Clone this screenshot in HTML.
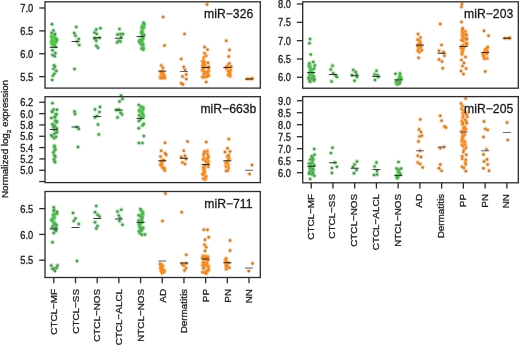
<!DOCTYPE html>
<html><head><meta charset="utf-8"><style>
html,body{margin:0;padding:0;background:#fff;width:520px;height:345px;overflow:hidden;font-family:"Liberation Sans", sans-serif;}
</style></head><body>
<svg width="520" height="345" viewBox="0 0 520 345" style="position:absolute;left:0;top:0;filter:blur(0.35px)">
<rect width="520" height="345" fill="#fff"/>
<circle cx="52.00" cy="24.20" r="2.4" fill="#4fd04f" fill-opacity="0.35"/>
<circle cx="53.50" cy="30.40" r="2.4" fill="#4fd04f" fill-opacity="0.35"/>
<circle cx="51.60" cy="32.80" r="2.4" fill="#4fd04f" fill-opacity="0.35"/>
<circle cx="55.00" cy="34.00" r="2.4" fill="#4fd04f" fill-opacity="0.35"/>
<circle cx="52.12" cy="35.47" r="2.4" fill="#4fd04f" fill-opacity="0.35"/>
<circle cx="51.64" cy="36.49" r="2.4" fill="#4fd04f" fill-opacity="0.35"/>
<circle cx="53.43" cy="36.81" r="2.4" fill="#4fd04f" fill-opacity="0.35"/>
<circle cx="54.30" cy="36.54" r="2.4" fill="#4fd04f" fill-opacity="0.35"/>
<circle cx="53.85" cy="37.01" r="2.4" fill="#4fd04f" fill-opacity="0.35"/>
<circle cx="51.75" cy="37.56" r="2.4" fill="#4fd04f" fill-opacity="0.35"/>
<circle cx="56.24" cy="38.63" r="2.4" fill="#4fd04f" fill-opacity="0.35"/>
<circle cx="52.56" cy="38.65" r="2.4" fill="#4fd04f" fill-opacity="0.35"/>
<circle cx="56.98" cy="39.95" r="2.4" fill="#4fd04f" fill-opacity="0.35"/>
<circle cx="53.62" cy="40.37" r="2.4" fill="#4fd04f" fill-opacity="0.35"/>
<circle cx="51.48" cy="41.51" r="2.4" fill="#4fd04f" fill-opacity="0.35"/>
<circle cx="52.97" cy="41.82" r="2.4" fill="#4fd04f" fill-opacity="0.35"/>
<circle cx="51.92" cy="41.18" r="2.4" fill="#4fd04f" fill-opacity="0.35"/>
<circle cx="56.18" cy="41.94" r="2.4" fill="#4fd04f" fill-opacity="0.35"/>
<circle cx="54.75" cy="42.24" r="2.4" fill="#4fd04f" fill-opacity="0.35"/>
<circle cx="53.47" cy="43.47" r="2.4" fill="#4fd04f" fill-opacity="0.35"/>
<circle cx="51.58" cy="43.83" r="2.4" fill="#4fd04f" fill-opacity="0.35"/>
<circle cx="52.46" cy="43.55" r="2.4" fill="#4fd04f" fill-opacity="0.35"/>
<circle cx="53.81" cy="45.04" r="2.4" fill="#4fd04f" fill-opacity="0.35"/>
<circle cx="54.77" cy="44.95" r="2.4" fill="#4fd04f" fill-opacity="0.35"/>
<circle cx="53.03" cy="45.68" r="2.4" fill="#4fd04f" fill-opacity="0.35"/>
<circle cx="55.46" cy="46.72" r="2.4" fill="#4fd04f" fill-opacity="0.35"/>
<circle cx="52.50" cy="50.20" r="2.4" fill="#4fd04f" fill-opacity="0.35"/>
<circle cx="55.40" cy="53.00" r="2.4" fill="#4fd04f" fill-opacity="0.35"/>
<circle cx="52.50" cy="54.90" r="2.4" fill="#4fd04f" fill-opacity="0.35"/>
<circle cx="54.80" cy="56.20" r="2.4" fill="#4fd04f" fill-opacity="0.35"/>
<circle cx="54.00" cy="65.30" r="2.4" fill="#4fd04f" fill-opacity="0.35"/>
<circle cx="53.50" cy="69.00" r="2.4" fill="#4fd04f" fill-opacity="0.35"/>
<circle cx="56.30" cy="71.00" r="2.4" fill="#4fd04f" fill-opacity="0.35"/>
<circle cx="54.40" cy="73.80" r="2.4" fill="#4fd04f" fill-opacity="0.35"/>
<circle cx="52.90" cy="75.70" r="2.4" fill="#4fd04f" fill-opacity="0.35"/>
<circle cx="52.20" cy="80.00" r="2.4" fill="#4fd04f" fill-opacity="0.35"/>
<circle cx="55.00" cy="67.00" r="2.4" fill="#4fd04f" fill-opacity="0.35"/>
<circle cx="52.00" cy="24.20" r="1.25" fill="#5a845f"/>
<circle cx="53.50" cy="30.40" r="1.25" fill="#5a845f"/>
<circle cx="51.60" cy="32.80" r="1.25" fill="#5a845f"/>
<circle cx="55.00" cy="34.00" r="1.25" fill="#5a845f"/>
<circle cx="52.12" cy="35.47" r="1.25" fill="#50cc4c"/>
<circle cx="51.64" cy="36.49" r="1.25" fill="#50cc4c"/>
<circle cx="53.43" cy="36.81" r="1.25" fill="#50cc4c"/>
<circle cx="54.30" cy="36.54" r="1.25" fill="#54af54"/>
<circle cx="53.85" cy="37.01" r="1.25" fill="#50cc4c"/>
<circle cx="51.75" cy="37.56" r="1.25" fill="#50cc4c"/>
<circle cx="56.24" cy="38.63" r="1.25" fill="#58925b"/>
<circle cx="52.56" cy="38.65" r="1.25" fill="#50cc4c"/>
<circle cx="56.98" cy="39.95" r="1.25" fill="#56a157"/>
<circle cx="53.62" cy="40.37" r="1.25" fill="#50cc4c"/>
<circle cx="51.48" cy="41.51" r="1.25" fill="#50cc4c"/>
<circle cx="52.97" cy="41.82" r="1.25" fill="#50cc4c"/>
<circle cx="51.92" cy="41.18" r="1.25" fill="#52be50"/>
<circle cx="56.18" cy="41.94" r="1.25" fill="#56a157"/>
<circle cx="54.75" cy="42.24" r="1.25" fill="#52be50"/>
<circle cx="53.47" cy="43.47" r="1.25" fill="#50cc4c"/>
<circle cx="51.58" cy="43.83" r="1.25" fill="#50cc4c"/>
<circle cx="52.46" cy="43.55" r="1.25" fill="#50cc4c"/>
<circle cx="53.81" cy="45.04" r="1.25" fill="#50cc4c"/>
<circle cx="54.77" cy="44.95" r="1.25" fill="#52be50"/>
<circle cx="53.03" cy="45.68" r="1.25" fill="#50cc4c"/>
<circle cx="55.46" cy="46.72" r="1.25" fill="#56a157"/>
<circle cx="52.50" cy="50.20" r="1.25" fill="#5a845f"/>
<circle cx="55.40" cy="53.00" r="1.25" fill="#5a845f"/>
<circle cx="52.50" cy="54.90" r="1.25" fill="#5a845f"/>
<circle cx="54.80" cy="56.20" r="1.25" fill="#5a845f"/>
<circle cx="54.00" cy="65.30" r="1.25" fill="#58925b"/>
<circle cx="53.50" cy="69.00" r="1.25" fill="#58925b"/>
<circle cx="56.30" cy="71.00" r="1.25" fill="#5a845f"/>
<circle cx="54.40" cy="73.80" r="1.25" fill="#58925b"/>
<circle cx="52.90" cy="75.70" r="1.25" fill="#58925b"/>
<circle cx="52.20" cy="80.00" r="1.25" fill="#5a845f"/>
<circle cx="55.00" cy="67.00" r="1.25" fill="#56a157"/>
<line x1="49.80" y1="47.4" x2="57.80" y2="47.4" stroke="#2a362a" stroke-width="1.05"/>
<circle cx="76.25" cy="27.00" r="2.4" fill="#4fd04f" fill-opacity="0.35"/>
<circle cx="74.25" cy="33.00" r="2.4" fill="#4fd04f" fill-opacity="0.35"/>
<circle cx="75.50" cy="35.75" r="2.4" fill="#4fd04f" fill-opacity="0.35"/>
<circle cx="78.75" cy="39.00" r="2.4" fill="#4fd04f" fill-opacity="0.35"/>
<circle cx="77.00" cy="41.50" r="2.4" fill="#4fd04f" fill-opacity="0.35"/>
<circle cx="79.25" cy="45.00" r="2.4" fill="#4fd04f" fill-opacity="0.35"/>
<circle cx="74.50" cy="69.00" r="2.4" fill="#4fd04f" fill-opacity="0.35"/>
<circle cx="76.25" cy="27.00" r="1.25" fill="#5a845f"/>
<circle cx="74.25" cy="33.00" r="1.25" fill="#5a845f"/>
<circle cx="75.50" cy="35.75" r="1.25" fill="#5a845f"/>
<circle cx="78.75" cy="39.00" r="1.25" fill="#5a845f"/>
<circle cx="77.00" cy="41.50" r="1.25" fill="#5a845f"/>
<circle cx="79.25" cy="45.00" r="1.25" fill="#5a845f"/>
<circle cx="74.50" cy="69.00" r="1.25" fill="#5a845f"/>
<line x1="71.49" y1="41.5" x2="79.49" y2="41.5" stroke="#3a3c3a" stroke-width="1.05"/>
<circle cx="96.25" cy="29.50" r="2.4" fill="#4fd04f" fill-opacity="0.35"/>
<circle cx="100.50" cy="28.25" r="2.4" fill="#4fd04f" fill-opacity="0.35"/>
<circle cx="94.50" cy="32.50" r="2.4" fill="#4fd04f" fill-opacity="0.35"/>
<circle cx="96.75" cy="34.00" r="2.4" fill="#4fd04f" fill-opacity="0.35"/>
<circle cx="94.50" cy="38.25" r="2.4" fill="#4fd04f" fill-opacity="0.35"/>
<circle cx="99.50" cy="37.75" r="2.4" fill="#4fd04f" fill-opacity="0.35"/>
<circle cx="96.25" cy="40.75" r="2.4" fill="#4fd04f" fill-opacity="0.35"/>
<circle cx="96.25" cy="45.75" r="2.4" fill="#4fd04f" fill-opacity="0.35"/>
<circle cx="98.00" cy="47.75" r="2.4" fill="#4fd04f" fill-opacity="0.35"/>
<circle cx="95.50" cy="39.00" r="2.4" fill="#4fd04f" fill-opacity="0.35"/>
<circle cx="96.25" cy="29.50" r="1.25" fill="#5a845f"/>
<circle cx="100.50" cy="28.25" r="1.25" fill="#5a845f"/>
<circle cx="94.50" cy="32.50" r="1.25" fill="#5a845f"/>
<circle cx="96.75" cy="34.00" r="1.25" fill="#5a845f"/>
<circle cx="94.50" cy="38.25" r="1.25" fill="#58925b"/>
<circle cx="99.50" cy="37.75" r="1.25" fill="#5a845f"/>
<circle cx="96.25" cy="40.75" r="1.25" fill="#58925b"/>
<circle cx="96.25" cy="45.75" r="1.25" fill="#5a845f"/>
<circle cx="98.00" cy="47.75" r="1.25" fill="#5a845f"/>
<circle cx="95.50" cy="39.00" r="1.25" fill="#56a157"/>
<line x1="93.18" y1="37.75" x2="101.18" y2="37.75" stroke="#2a362a" stroke-width="1.05"/>
<circle cx="119.50" cy="29.00" r="2.4" fill="#4fd04f" fill-opacity="0.35"/>
<circle cx="117.50" cy="34.50" r="2.4" fill="#4fd04f" fill-opacity="0.35"/>
<circle cx="120.50" cy="34.00" r="2.4" fill="#4fd04f" fill-opacity="0.35"/>
<circle cx="123.00" cy="34.00" r="2.4" fill="#4fd04f" fill-opacity="0.35"/>
<circle cx="118.75" cy="40.75" r="2.4" fill="#4fd04f" fill-opacity="0.35"/>
<circle cx="117.00" cy="42.50" r="2.4" fill="#4fd04f" fill-opacity="0.35"/>
<circle cx="120.50" cy="41.50" r="2.4" fill="#4fd04f" fill-opacity="0.35"/>
<circle cx="121.00" cy="37.00" r="2.4" fill="#4fd04f" fill-opacity="0.35"/>
<circle cx="119.50" cy="29.00" r="1.25" fill="#5a845f"/>
<circle cx="117.50" cy="34.50" r="1.25" fill="#5a845f"/>
<circle cx="120.50" cy="34.00" r="1.25" fill="#58925b"/>
<circle cx="123.00" cy="34.00" r="1.25" fill="#58925b"/>
<circle cx="118.75" cy="40.75" r="1.25" fill="#56a157"/>
<circle cx="117.00" cy="42.50" r="1.25" fill="#58925b"/>
<circle cx="120.50" cy="41.50" r="1.25" fill="#58925b"/>
<circle cx="121.00" cy="37.00" r="1.25" fill="#5a845f"/>
<line x1="114.87" y1="38.25" x2="122.87" y2="38.25" stroke="#3a3c3a" stroke-width="1.05"/>
<circle cx="143.48" cy="22.64" r="2.4" fill="#4fd04f" fill-opacity="0.35"/>
<circle cx="144.41" cy="24.19" r="2.4" fill="#4fd04f" fill-opacity="0.35"/>
<circle cx="142.59" cy="25.62" r="2.4" fill="#4fd04f" fill-opacity="0.35"/>
<circle cx="142.07" cy="27.12" r="2.4" fill="#4fd04f" fill-opacity="0.35"/>
<circle cx="144.05" cy="27.32" r="2.4" fill="#4fd04f" fill-opacity="0.35"/>
<circle cx="141.95" cy="27.94" r="2.4" fill="#4fd04f" fill-opacity="0.35"/>
<circle cx="142.77" cy="28.76" r="2.4" fill="#4fd04f" fill-opacity="0.35"/>
<circle cx="142.34" cy="30.92" r="2.4" fill="#4fd04f" fill-opacity="0.35"/>
<circle cx="141.14" cy="32.10" r="2.4" fill="#4fd04f" fill-opacity="0.35"/>
<circle cx="142.43" cy="32.81" r="2.4" fill="#4fd04f" fill-opacity="0.35"/>
<circle cx="141.80" cy="33.63" r="2.4" fill="#4fd04f" fill-opacity="0.35"/>
<circle cx="144.05" cy="35.04" r="2.4" fill="#4fd04f" fill-opacity="0.35"/>
<circle cx="142.76" cy="35.46" r="2.4" fill="#4fd04f" fill-opacity="0.35"/>
<circle cx="141.93" cy="36.73" r="2.4" fill="#4fd04f" fill-opacity="0.35"/>
<circle cx="143.27" cy="38.55" r="2.4" fill="#4fd04f" fill-opacity="0.35"/>
<circle cx="140.01" cy="39.70" r="2.4" fill="#4fd04f" fill-opacity="0.35"/>
<circle cx="141.78" cy="39.88" r="2.4" fill="#4fd04f" fill-opacity="0.35"/>
<circle cx="140.82" cy="40.17" r="2.4" fill="#4fd04f" fill-opacity="0.35"/>
<circle cx="139.24" cy="41.28" r="2.4" fill="#4fd04f" fill-opacity="0.35"/>
<circle cx="142.23" cy="41.98" r="2.4" fill="#4fd04f" fill-opacity="0.35"/>
<circle cx="139.84" cy="42.97" r="2.4" fill="#4fd04f" fill-opacity="0.35"/>
<circle cx="143.27" cy="44.37" r="2.4" fill="#4fd04f" fill-opacity="0.35"/>
<circle cx="141.54" cy="44.95" r="2.4" fill="#4fd04f" fill-opacity="0.35"/>
<circle cx="143.32" cy="46.79" r="2.4" fill="#4fd04f" fill-opacity="0.35"/>
<circle cx="143.24" cy="48.30" r="2.4" fill="#4fd04f" fill-opacity="0.35"/>
<circle cx="141.40" cy="48.52" r="2.4" fill="#4fd04f" fill-opacity="0.35"/>
<circle cx="143.33" cy="49.73" r="2.4" fill="#4fd04f" fill-opacity="0.35"/>
<circle cx="143.48" cy="22.64" r="1.25" fill="#58925b"/>
<circle cx="144.41" cy="24.19" r="1.25" fill="#56a157"/>
<circle cx="142.59" cy="25.62" r="1.25" fill="#52be50"/>
<circle cx="142.07" cy="27.12" r="1.25" fill="#52be50"/>
<circle cx="144.05" cy="27.32" r="1.25" fill="#52be50"/>
<circle cx="141.95" cy="27.94" r="1.25" fill="#52be50"/>
<circle cx="142.77" cy="28.76" r="1.25" fill="#52be50"/>
<circle cx="142.34" cy="30.92" r="1.25" fill="#54af54"/>
<circle cx="141.14" cy="32.10" r="1.25" fill="#54af54"/>
<circle cx="142.43" cy="32.81" r="1.25" fill="#54af54"/>
<circle cx="141.80" cy="33.63" r="1.25" fill="#54af54"/>
<circle cx="144.05" cy="35.04" r="1.25" fill="#58925b"/>
<circle cx="142.76" cy="35.46" r="1.25" fill="#54af54"/>
<circle cx="141.93" cy="36.73" r="1.25" fill="#56a157"/>
<circle cx="143.27" cy="38.55" r="1.25" fill="#56a157"/>
<circle cx="140.01" cy="39.70" r="1.25" fill="#54af54"/>
<circle cx="141.78" cy="39.88" r="1.25" fill="#52be50"/>
<circle cx="140.82" cy="40.17" r="1.25" fill="#52be50"/>
<circle cx="139.24" cy="41.28" r="1.25" fill="#54af54"/>
<circle cx="142.23" cy="41.98" r="1.25" fill="#54af54"/>
<circle cx="139.84" cy="42.97" r="1.25" fill="#56a157"/>
<circle cx="143.27" cy="44.37" r="1.25" fill="#56a157"/>
<circle cx="141.54" cy="44.95" r="1.25" fill="#56a157"/>
<circle cx="143.32" cy="46.79" r="1.25" fill="#52be50"/>
<circle cx="143.24" cy="48.30" r="1.25" fill="#54af54"/>
<circle cx="141.40" cy="48.52" r="1.25" fill="#54af54"/>
<circle cx="143.33" cy="49.73" r="1.25" fill="#56a157"/>
<line x1="136.56" y1="36.5" x2="144.56" y2="36.5" stroke="#2a362a" stroke-width="1.05"/>
<circle cx="163.10" cy="17.00" r="2.4" fill="#f59a30" fill-opacity="0.35"/>
<circle cx="164.50" cy="45.50" r="2.4" fill="#f59a30" fill-opacity="0.35"/>
<circle cx="161.30" cy="65.40" r="2.4" fill="#f59a30" fill-opacity="0.35"/>
<circle cx="163.00" cy="68.00" r="2.4" fill="#f59a30" fill-opacity="0.35"/>
<circle cx="161.05" cy="72.51" r="2.4" fill="#f59a30" fill-opacity="0.35"/>
<circle cx="161.50" cy="71.82" r="2.4" fill="#f59a30" fill-opacity="0.35"/>
<circle cx="162.92" cy="72.47" r="2.4" fill="#f59a30" fill-opacity="0.35"/>
<circle cx="161.67" cy="73.59" r="2.4" fill="#f59a30" fill-opacity="0.35"/>
<circle cx="162.55" cy="73.21" r="2.4" fill="#f59a30" fill-opacity="0.35"/>
<circle cx="163.37" cy="74.36" r="2.4" fill="#f59a30" fill-opacity="0.35"/>
<circle cx="164.07" cy="75.85" r="2.4" fill="#f59a30" fill-opacity="0.35"/>
<circle cx="163.66" cy="75.70" r="2.4" fill="#f59a30" fill-opacity="0.35"/>
<circle cx="160.50" cy="76.52" r="2.4" fill="#f59a30" fill-opacity="0.35"/>
<circle cx="164.57" cy="77.43" r="2.4" fill="#f59a30" fill-opacity="0.35"/>
<circle cx="164.67" cy="77.95" r="2.4" fill="#f59a30" fill-opacity="0.35"/>
<circle cx="162.43" cy="77.73" r="2.4" fill="#f59a30" fill-opacity="0.35"/>
<circle cx="163.75" cy="77.83" r="2.4" fill="#f59a30" fill-opacity="0.35"/>
<circle cx="160.58" cy="78.32" r="2.4" fill="#f59a30" fill-opacity="0.35"/>
<circle cx="163.10" cy="17.00" r="1.25" fill="#b27a46"/>
<circle cx="164.50" cy="45.50" r="1.25" fill="#b27a46"/>
<circle cx="161.30" cy="65.40" r="1.25" fill="#c77f3c"/>
<circle cx="163.00" cy="68.00" r="1.25" fill="#c77f3c"/>
<circle cx="161.05" cy="72.51" r="1.25" fill="#f08a28"/>
<circle cx="161.50" cy="71.82" r="1.25" fill="#f08a28"/>
<circle cx="162.92" cy="72.47" r="1.25" fill="#f08a28"/>
<circle cx="161.67" cy="73.59" r="1.25" fill="#f08a28"/>
<circle cx="162.55" cy="73.21" r="1.25" fill="#f08a28"/>
<circle cx="163.37" cy="74.36" r="1.25" fill="#f08a28"/>
<circle cx="164.07" cy="75.85" r="1.25" fill="#f08a28"/>
<circle cx="163.66" cy="75.70" r="1.25" fill="#f08a28"/>
<circle cx="160.50" cy="76.52" r="1.25" fill="#f08a28"/>
<circle cx="164.57" cy="77.43" r="1.25" fill="#f08a28"/>
<circle cx="164.67" cy="77.95" r="1.25" fill="#f08a28"/>
<circle cx="162.43" cy="77.73" r="1.25" fill="#f08a28"/>
<circle cx="163.75" cy="77.83" r="1.25" fill="#f08a28"/>
<circle cx="160.58" cy="78.32" r="1.25" fill="#db8532"/>
<line x1="158.25" y1="71.1" x2="166.25" y2="71.1" stroke="#3a2618" stroke-width="1.05"/>
<circle cx="184.50" cy="34.00" r="2.4" fill="#f59a30" fill-opacity="0.35"/>
<circle cx="181.25" cy="59.00" r="2.4" fill="#f59a30" fill-opacity="0.35"/>
<circle cx="183.75" cy="67.00" r="2.4" fill="#f59a30" fill-opacity="0.35"/>
<circle cx="186.25" cy="74.50" r="2.4" fill="#f59a30" fill-opacity="0.35"/>
<circle cx="182.50" cy="76.50" r="2.4" fill="#f59a30" fill-opacity="0.35"/>
<circle cx="186.25" cy="79.00" r="2.4" fill="#f59a30" fill-opacity="0.35"/>
<circle cx="181.25" cy="83.25" r="2.4" fill="#f59a30" fill-opacity="0.35"/>
<circle cx="183.00" cy="84.50" r="2.4" fill="#f59a30" fill-opacity="0.35"/>
<circle cx="185.00" cy="70.00" r="2.4" fill="#f59a30" fill-opacity="0.35"/>
<circle cx="184.50" cy="34.00" r="1.25" fill="#b27a46"/>
<circle cx="181.25" cy="59.00" r="1.25" fill="#b27a46"/>
<circle cx="183.75" cy="67.00" r="1.25" fill="#b27a46"/>
<circle cx="186.25" cy="74.50" r="1.25" fill="#b27a46"/>
<circle cx="182.50" cy="76.50" r="1.25" fill="#b27a46"/>
<circle cx="186.25" cy="79.00" r="1.25" fill="#b27a46"/>
<circle cx="181.25" cy="83.25" r="1.25" fill="#c77f3c"/>
<circle cx="183.00" cy="84.50" r="1.25" fill="#c77f3c"/>
<circle cx="185.00" cy="70.00" r="1.25" fill="#b27a46"/>
<line x1="179.94" y1="71.5" x2="187.94" y2="71.5" stroke="#636378" stroke-width="1.05"/>
<circle cx="207.00" cy="4.50" r="2.4" fill="#f59a30" fill-opacity="0.35"/>
<circle cx="204.50" cy="47.00" r="2.4" fill="#f59a30" fill-opacity="0.35"/>
<circle cx="207.50" cy="49.50" r="2.4" fill="#f59a30" fill-opacity="0.35"/>
<circle cx="204.50" cy="53.25" r="2.4" fill="#f59a30" fill-opacity="0.35"/>
<circle cx="206.25" cy="55.75" r="2.4" fill="#f59a30" fill-opacity="0.35"/>
<circle cx="203.75" cy="57.50" r="2.4" fill="#f59a30" fill-opacity="0.35"/>
<circle cx="203.27" cy="60.60" r="2.4" fill="#f59a30" fill-opacity="0.35"/>
<circle cx="202.55" cy="61.43" r="2.4" fill="#f59a30" fill-opacity="0.35"/>
<circle cx="203.20" cy="61.51" r="2.4" fill="#f59a30" fill-opacity="0.35"/>
<circle cx="204.60" cy="62.30" r="2.4" fill="#f59a30" fill-opacity="0.35"/>
<circle cx="207.97" cy="62.80" r="2.4" fill="#f59a30" fill-opacity="0.35"/>
<circle cx="203.18" cy="64.37" r="2.4" fill="#f59a30" fill-opacity="0.35"/>
<circle cx="204.49" cy="64.42" r="2.4" fill="#f59a30" fill-opacity="0.35"/>
<circle cx="203.01" cy="65.22" r="2.4" fill="#f59a30" fill-opacity="0.35"/>
<circle cx="208.75" cy="66.62" r="2.4" fill="#f59a30" fill-opacity="0.35"/>
<circle cx="205.39" cy="66.63" r="2.4" fill="#f59a30" fill-opacity="0.35"/>
<circle cx="202.87" cy="66.65" r="2.4" fill="#f59a30" fill-opacity="0.35"/>
<circle cx="203.95" cy="67.69" r="2.4" fill="#f59a30" fill-opacity="0.35"/>
<circle cx="203.27" cy="69.09" r="2.4" fill="#f59a30" fill-opacity="0.35"/>
<circle cx="208.48" cy="68.42" r="2.4" fill="#f59a30" fill-opacity="0.35"/>
<circle cx="203.17" cy="69.86" r="2.4" fill="#f59a30" fill-opacity="0.35"/>
<circle cx="202.38" cy="70.51" r="2.4" fill="#f59a30" fill-opacity="0.35"/>
<circle cx="208.66" cy="71.11" r="2.4" fill="#f59a30" fill-opacity="0.35"/>
<circle cx="206.79" cy="72.27" r="2.4" fill="#f59a30" fill-opacity="0.35"/>
<circle cx="204.62" cy="71.93" r="2.4" fill="#f59a30" fill-opacity="0.35"/>
<circle cx="207.29" cy="72.40" r="2.4" fill="#f59a30" fill-opacity="0.35"/>
<circle cx="207.34" cy="73.61" r="2.4" fill="#f59a30" fill-opacity="0.35"/>
<circle cx="203.67" cy="73.91" r="2.4" fill="#f59a30" fill-opacity="0.35"/>
<circle cx="208.70" cy="75.31" r="2.4" fill="#f59a30" fill-opacity="0.35"/>
<circle cx="207.52" cy="76.00" r="2.4" fill="#f59a30" fill-opacity="0.35"/>
<circle cx="207.08" cy="76.57" r="2.4" fill="#f59a30" fill-opacity="0.35"/>
<circle cx="205.62" cy="76.25" r="2.4" fill="#f59a30" fill-opacity="0.35"/>
<circle cx="202.39" cy="77.08" r="2.4" fill="#f59a30" fill-opacity="0.35"/>
<circle cx="204.04" cy="77.18" r="2.4" fill="#f59a30" fill-opacity="0.35"/>
<circle cx="206.25" cy="82.00" r="2.4" fill="#f59a30" fill-opacity="0.35"/>
<circle cx="207.00" cy="4.50" r="1.25" fill="#b27a46"/>
<circle cx="204.50" cy="47.00" r="1.25" fill="#b27a46"/>
<circle cx="207.50" cy="49.50" r="1.25" fill="#b27a46"/>
<circle cx="204.50" cy="53.25" r="1.25" fill="#c77f3c"/>
<circle cx="206.25" cy="55.75" r="1.25" fill="#db8532"/>
<circle cx="203.75" cy="57.50" r="1.25" fill="#db8532"/>
<circle cx="203.27" cy="60.60" r="1.25" fill="#f08a28"/>
<circle cx="202.55" cy="61.43" r="1.25" fill="#f08a28"/>
<circle cx="203.20" cy="61.51" r="1.25" fill="#f08a28"/>
<circle cx="204.60" cy="62.30" r="1.25" fill="#f08a28"/>
<circle cx="207.97" cy="62.80" r="1.25" fill="#b27a46"/>
<circle cx="203.18" cy="64.37" r="1.25" fill="#f08a28"/>
<circle cx="204.49" cy="64.42" r="1.25" fill="#f08a28"/>
<circle cx="203.01" cy="65.22" r="1.25" fill="#f08a28"/>
<circle cx="208.75" cy="66.62" r="1.25" fill="#c77f3c"/>
<circle cx="205.39" cy="66.63" r="1.25" fill="#f08a28"/>
<circle cx="202.87" cy="66.65" r="1.25" fill="#f08a28"/>
<circle cx="203.95" cy="67.69" r="1.25" fill="#f08a28"/>
<circle cx="203.27" cy="69.09" r="1.25" fill="#f08a28"/>
<circle cx="208.48" cy="68.42" r="1.25" fill="#db8532"/>
<circle cx="203.17" cy="69.86" r="1.25" fill="#f08a28"/>
<circle cx="202.38" cy="70.51" r="1.25" fill="#f08a28"/>
<circle cx="208.66" cy="71.11" r="1.25" fill="#f08a28"/>
<circle cx="206.79" cy="72.27" r="1.25" fill="#f08a28"/>
<circle cx="204.62" cy="71.93" r="1.25" fill="#f08a28"/>
<circle cx="207.29" cy="72.40" r="1.25" fill="#f08a28"/>
<circle cx="207.34" cy="73.61" r="1.25" fill="#f08a28"/>
<circle cx="203.67" cy="73.91" r="1.25" fill="#db8532"/>
<circle cx="208.70" cy="75.31" r="1.25" fill="#f08a28"/>
<circle cx="207.52" cy="76.00" r="1.25" fill="#f08a28"/>
<circle cx="207.08" cy="76.57" r="1.25" fill="#f08a28"/>
<circle cx="205.62" cy="76.25" r="1.25" fill="#f08a28"/>
<circle cx="202.39" cy="77.08" r="1.25" fill="#c77f3c"/>
<circle cx="204.04" cy="77.18" r="1.25" fill="#f08a28"/>
<circle cx="206.25" cy="82.00" r="1.25" fill="#b27a46"/>
<line x1="201.63" y1="67.5" x2="209.63" y2="67.5" stroke="#3a2618" stroke-width="1.05"/>
<circle cx="226.25" cy="40.75" r="2.4" fill="#f59a30" fill-opacity="0.35"/>
<circle cx="229.50" cy="50.00" r="2.4" fill="#f59a30" fill-opacity="0.35"/>
<circle cx="228.75" cy="56.50" r="2.4" fill="#f59a30" fill-opacity="0.35"/>
<circle cx="229.35" cy="63.36" r="2.4" fill="#f59a30" fill-opacity="0.35"/>
<circle cx="227.79" cy="65.45" r="2.4" fill="#f59a30" fill-opacity="0.35"/>
<circle cx="231.22" cy="66.40" r="2.4" fill="#f59a30" fill-opacity="0.35"/>
<circle cx="227.27" cy="67.42" r="2.4" fill="#f59a30" fill-opacity="0.35"/>
<circle cx="226.39" cy="67.22" r="2.4" fill="#f59a30" fill-opacity="0.35"/>
<circle cx="226.25" cy="68.17" r="2.4" fill="#f59a30" fill-opacity="0.35"/>
<circle cx="230.67" cy="69.83" r="2.4" fill="#f59a30" fill-opacity="0.35"/>
<circle cx="227.99" cy="71.16" r="2.4" fill="#f59a30" fill-opacity="0.35"/>
<circle cx="230.03" cy="71.84" r="2.4" fill="#f59a30" fill-opacity="0.35"/>
<circle cx="229.14" cy="71.92" r="2.4" fill="#f59a30" fill-opacity="0.35"/>
<circle cx="229.92" cy="74.22" r="2.4" fill="#f59a30" fill-opacity="0.35"/>
<circle cx="227.99" cy="74.94" r="2.4" fill="#f59a30" fill-opacity="0.35"/>
<circle cx="229.96" cy="75.01" r="2.4" fill="#f59a30" fill-opacity="0.35"/>
<circle cx="230.04" cy="76.24" r="2.4" fill="#f59a30" fill-opacity="0.35"/>
<circle cx="226.25" cy="40.75" r="1.25" fill="#b27a46"/>
<circle cx="229.50" cy="50.00" r="1.25" fill="#b27a46"/>
<circle cx="228.75" cy="56.50" r="1.25" fill="#b27a46"/>
<circle cx="229.35" cy="63.36" r="1.25" fill="#c77f3c"/>
<circle cx="227.79" cy="65.45" r="1.25" fill="#f08a28"/>
<circle cx="231.22" cy="66.40" r="1.25" fill="#b27a46"/>
<circle cx="227.27" cy="67.42" r="1.25" fill="#f08a28"/>
<circle cx="226.39" cy="67.22" r="1.25" fill="#f08a28"/>
<circle cx="226.25" cy="68.17" r="1.25" fill="#f08a28"/>
<circle cx="230.67" cy="69.83" r="1.25" fill="#f08a28"/>
<circle cx="227.99" cy="71.16" r="1.25" fill="#f08a28"/>
<circle cx="230.03" cy="71.84" r="1.25" fill="#f08a28"/>
<circle cx="229.14" cy="71.92" r="1.25" fill="#f08a28"/>
<circle cx="229.92" cy="74.22" r="1.25" fill="#f08a28"/>
<circle cx="227.99" cy="74.94" r="1.25" fill="#f08a28"/>
<circle cx="229.96" cy="75.01" r="1.25" fill="#f08a28"/>
<circle cx="230.04" cy="76.24" r="1.25" fill="#f08a28"/>
<line x1="223.32" y1="67.5" x2="231.32" y2="67.5" stroke="#3a2618" stroke-width="1.05"/>
<circle cx="247.50" cy="79.00" r="2.4" fill="#f59a30" fill-opacity="0.35"/>
<circle cx="250.50" cy="79.00" r="2.4" fill="#f59a30" fill-opacity="0.35"/>
<circle cx="252.50" cy="78.50" r="2.4" fill="#f59a30" fill-opacity="0.35"/>
<circle cx="247.50" cy="79.00" r="1.25" fill="#c77f3c"/>
<circle cx="250.50" cy="79.00" r="1.25" fill="#db8532"/>
<circle cx="252.50" cy="78.50" r="1.25" fill="#c77f3c"/>
<line x1="245.01" y1="79" x2="253.01" y2="79" stroke="#3a2618" stroke-width="1.05"/>
<rect x="45" y="1.8" width="215.30" height="86.30" fill="none" stroke="#2a2a2a" stroke-width="1.3"/>
<line x1="39.20" y1="8.00" x2="45.00" y2="8.00" stroke="#2a2a2a" stroke-width="1.3"/>
<text transform="translate(33.20,12.11) scale(1,1.17)" text-anchor="end" font-family='"Liberation Sans", sans-serif' font-size="9.3" fill="#222" stroke="#222" stroke-width="0.3">7.0</text>
<line x1="39.20" y1="30.87" x2="45.00" y2="30.87" stroke="#2a2a2a" stroke-width="1.3"/>
<text transform="translate(33.20,34.98) scale(1,1.17)" text-anchor="end" font-family='"Liberation Sans", sans-serif' font-size="9.3" fill="#222" stroke="#222" stroke-width="0.3">6.5</text>
<line x1="39.20" y1="53.74" x2="45.00" y2="53.74" stroke="#2a2a2a" stroke-width="1.3"/>
<text transform="translate(33.20,57.85) scale(1,1.17)" text-anchor="end" font-family='"Liberation Sans", sans-serif' font-size="9.3" fill="#222" stroke="#222" stroke-width="0.3">6.0</text>
<line x1="39.20" y1="76.61" x2="45.00" y2="76.61" stroke="#2a2a2a" stroke-width="1.3"/>
<text transform="translate(33.20,80.72) scale(1,1.17)" text-anchor="end" font-family='"Liberation Sans", sans-serif' font-size="9.3" fill="#222" stroke="#222" stroke-width="0.3">5.5</text>
<text transform="translate(253.20,17.80) scale(1,1.0)" text-anchor="end" font-family='"Liberation Sans", sans-serif' font-size="12.2" fill="#1a1a1a" stroke="#1a1a1a" stroke-width="0.3">miR−326</text>
<circle cx="52.50" cy="103.25" r="2.4" fill="#4fd04f" fill-opacity="0.35"/>
<circle cx="53.61" cy="109.38" r="2.4" fill="#4fd04f" fill-opacity="0.35"/>
<circle cx="56.98" cy="109.73" r="2.4" fill="#4fd04f" fill-opacity="0.35"/>
<circle cx="52.24" cy="111.51" r="2.4" fill="#4fd04f" fill-opacity="0.35"/>
<circle cx="52.12" cy="111.81" r="2.4" fill="#4fd04f" fill-opacity="0.35"/>
<circle cx="56.12" cy="114.32" r="2.4" fill="#4fd04f" fill-opacity="0.35"/>
<circle cx="56.24" cy="114.36" r="2.4" fill="#4fd04f" fill-opacity="0.35"/>
<circle cx="55.21" cy="116.96" r="2.4" fill="#4fd04f" fill-opacity="0.35"/>
<circle cx="54.55" cy="117.21" r="2.4" fill="#4fd04f" fill-opacity="0.35"/>
<circle cx="51.29" cy="118.12" r="2.4" fill="#4fd04f" fill-opacity="0.35"/>
<circle cx="55.16" cy="120.72" r="2.4" fill="#4fd04f" fill-opacity="0.35"/>
<circle cx="56.90" cy="121.27" r="2.4" fill="#4fd04f" fill-opacity="0.35"/>
<circle cx="56.52" cy="122.38" r="2.4" fill="#4fd04f" fill-opacity="0.35"/>
<circle cx="52.49" cy="124.27" r="2.4" fill="#4fd04f" fill-opacity="0.35"/>
<circle cx="52.99" cy="124.61" r="2.4" fill="#4fd04f" fill-opacity="0.35"/>
<circle cx="54.78" cy="125.85" r="2.4" fill="#4fd04f" fill-opacity="0.35"/>
<circle cx="53.76" cy="127.14" r="2.4" fill="#4fd04f" fill-opacity="0.35"/>
<circle cx="56.75" cy="128.20" r="2.4" fill="#4fd04f" fill-opacity="0.35"/>
<circle cx="53.99" cy="129.82" r="2.4" fill="#4fd04f" fill-opacity="0.35"/>
<circle cx="56.72" cy="131.44" r="2.4" fill="#4fd04f" fill-opacity="0.35"/>
<circle cx="56.80" cy="132.44" r="2.4" fill="#4fd04f" fill-opacity="0.35"/>
<circle cx="54.44" cy="133.83" r="2.4" fill="#4fd04f" fill-opacity="0.35"/>
<circle cx="51.31" cy="135.13" r="2.4" fill="#4fd04f" fill-opacity="0.35"/>
<circle cx="52.32" cy="136.25" r="2.4" fill="#4fd04f" fill-opacity="0.35"/>
<circle cx="56.07" cy="136.82" r="2.4" fill="#4fd04f" fill-opacity="0.35"/>
<circle cx="54.09" cy="138.35" r="2.4" fill="#4fd04f" fill-opacity="0.35"/>
<circle cx="54.48" cy="145.80" r="2.4" fill="#4fd04f" fill-opacity="0.35"/>
<circle cx="54.33" cy="147.03" r="2.4" fill="#4fd04f" fill-opacity="0.35"/>
<circle cx="55.42" cy="149.28" r="2.4" fill="#4fd04f" fill-opacity="0.35"/>
<circle cx="54.50" cy="150.43" r="2.4" fill="#4fd04f" fill-opacity="0.35"/>
<circle cx="53.34" cy="152.54" r="2.4" fill="#4fd04f" fill-opacity="0.35"/>
<circle cx="54.28" cy="155.25" r="2.4" fill="#4fd04f" fill-opacity="0.35"/>
<circle cx="55.32" cy="156.79" r="2.4" fill="#4fd04f" fill-opacity="0.35"/>
<circle cx="54.02" cy="159.22" r="2.4" fill="#4fd04f" fill-opacity="0.35"/>
<circle cx="54.27" cy="160.62" r="2.4" fill="#4fd04f" fill-opacity="0.35"/>
<circle cx="55.04" cy="162.33" r="2.4" fill="#4fd04f" fill-opacity="0.35"/>
<circle cx="52.50" cy="103.25" r="1.25" fill="#5a845f"/>
<circle cx="53.61" cy="109.38" r="1.25" fill="#58925b"/>
<circle cx="56.98" cy="109.73" r="1.25" fill="#5a845f"/>
<circle cx="52.24" cy="111.51" r="1.25" fill="#56a157"/>
<circle cx="52.12" cy="111.81" r="1.25" fill="#58925b"/>
<circle cx="56.12" cy="114.32" r="1.25" fill="#58925b"/>
<circle cx="56.24" cy="114.36" r="1.25" fill="#58925b"/>
<circle cx="55.21" cy="116.96" r="1.25" fill="#58925b"/>
<circle cx="54.55" cy="117.21" r="1.25" fill="#58925b"/>
<circle cx="51.29" cy="118.12" r="1.25" fill="#5a845f"/>
<circle cx="55.16" cy="120.72" r="1.25" fill="#56a157"/>
<circle cx="56.90" cy="121.27" r="1.25" fill="#56a157"/>
<circle cx="56.52" cy="122.38" r="1.25" fill="#56a157"/>
<circle cx="52.49" cy="124.27" r="1.25" fill="#58925b"/>
<circle cx="52.99" cy="124.61" r="1.25" fill="#56a157"/>
<circle cx="54.78" cy="125.85" r="1.25" fill="#56a157"/>
<circle cx="53.76" cy="127.14" r="1.25" fill="#58925b"/>
<circle cx="56.75" cy="128.20" r="1.25" fill="#5a845f"/>
<circle cx="53.99" cy="129.82" r="1.25" fill="#5a845f"/>
<circle cx="56.72" cy="131.44" r="1.25" fill="#58925b"/>
<circle cx="56.80" cy="132.44" r="1.25" fill="#58925b"/>
<circle cx="54.44" cy="133.83" r="1.25" fill="#5a845f"/>
<circle cx="51.31" cy="135.13" r="1.25" fill="#58925b"/>
<circle cx="52.32" cy="136.25" r="1.25" fill="#58925b"/>
<circle cx="56.07" cy="136.82" r="1.25" fill="#58925b"/>
<circle cx="54.09" cy="138.35" r="1.25" fill="#58925b"/>
<circle cx="54.48" cy="145.80" r="1.25" fill="#58925b"/>
<circle cx="54.33" cy="147.03" r="1.25" fill="#56a157"/>
<circle cx="55.42" cy="149.28" r="1.25" fill="#56a157"/>
<circle cx="54.50" cy="150.43" r="1.25" fill="#56a157"/>
<circle cx="53.34" cy="152.54" r="1.25" fill="#58925b"/>
<circle cx="54.28" cy="155.25" r="1.25" fill="#58925b"/>
<circle cx="55.32" cy="156.79" r="1.25" fill="#58925b"/>
<circle cx="54.02" cy="159.22" r="1.25" fill="#58925b"/>
<circle cx="54.27" cy="160.62" r="1.25" fill="#56a157"/>
<circle cx="55.04" cy="162.33" r="1.25" fill="#58925b"/>
<line x1="49.80" y1="129.5" x2="57.80" y2="129.5" stroke="#2a362a" stroke-width="1.05"/>
<circle cx="74.50" cy="111.50" r="2.4" fill="#4fd04f" fill-opacity="0.35"/>
<circle cx="75.00" cy="114.00" r="2.4" fill="#4fd04f" fill-opacity="0.35"/>
<circle cx="76.50" cy="127.00" r="2.4" fill="#4fd04f" fill-opacity="0.35"/>
<circle cx="78.75" cy="129.00" r="2.4" fill="#4fd04f" fill-opacity="0.35"/>
<circle cx="78.00" cy="147.00" r="2.4" fill="#4fd04f" fill-opacity="0.35"/>
<circle cx="74.50" cy="111.50" r="1.25" fill="#58925b"/>
<circle cx="75.00" cy="114.00" r="1.25" fill="#58925b"/>
<circle cx="76.50" cy="127.00" r="1.25" fill="#5a845f"/>
<circle cx="78.75" cy="129.00" r="1.25" fill="#5a845f"/>
<circle cx="78.00" cy="147.00" r="1.25" fill="#5a845f"/>
<line x1="71.49" y1="127" x2="79.49" y2="127" stroke="#3a3c3a" stroke-width="1.05"/>
<circle cx="95.00" cy="109.50" r="2.4" fill="#4fd04f" fill-opacity="0.35"/>
<circle cx="100.00" cy="107.00" r="2.4" fill="#4fd04f" fill-opacity="0.35"/>
<circle cx="99.50" cy="112.00" r="2.4" fill="#4fd04f" fill-opacity="0.35"/>
<circle cx="95.00" cy="117.50" r="2.4" fill="#4fd04f" fill-opacity="0.35"/>
<circle cx="98.00" cy="124.50" r="2.4" fill="#4fd04f" fill-opacity="0.35"/>
<circle cx="98.75" cy="134.50" r="2.4" fill="#4fd04f" fill-opacity="0.35"/>
<circle cx="97.00" cy="116.00" r="2.4" fill="#4fd04f" fill-opacity="0.35"/>
<circle cx="95.00" cy="109.50" r="1.25" fill="#5a845f"/>
<circle cx="100.00" cy="107.00" r="1.25" fill="#5a845f"/>
<circle cx="99.50" cy="112.00" r="1.25" fill="#5a845f"/>
<circle cx="95.00" cy="117.50" r="1.25" fill="#58925b"/>
<circle cx="98.00" cy="124.50" r="1.25" fill="#5a845f"/>
<circle cx="98.75" cy="134.50" r="1.25" fill="#5a845f"/>
<circle cx="97.00" cy="116.00" r="1.25" fill="#58925b"/>
<line x1="93.18" y1="116.5" x2="101.18" y2="116.5" stroke="#3a3c3a" stroke-width="1.05"/>
<circle cx="119.50" cy="101.50" r="2.4" fill="#4fd04f" fill-opacity="0.35"/>
<circle cx="122.50" cy="99.00" r="2.4" fill="#4fd04f" fill-opacity="0.35"/>
<circle cx="116.25" cy="110.00" r="2.4" fill="#4fd04f" fill-opacity="0.35"/>
<circle cx="118.75" cy="109.50" r="2.4" fill="#4fd04f" fill-opacity="0.35"/>
<circle cx="120.50" cy="112.50" r="2.4" fill="#4fd04f" fill-opacity="0.35"/>
<circle cx="122.00" cy="114.50" r="2.4" fill="#4fd04f" fill-opacity="0.35"/>
<circle cx="117.50" cy="117.50" r="2.4" fill="#4fd04f" fill-opacity="0.35"/>
<circle cx="121.00" cy="95.50" r="2.4" fill="#4fd04f" fill-opacity="0.35"/>
<circle cx="119.50" cy="101.50" r="1.25" fill="#5a845f"/>
<circle cx="122.50" cy="99.00" r="1.25" fill="#5a845f"/>
<circle cx="116.25" cy="110.00" r="1.25" fill="#58925b"/>
<circle cx="118.75" cy="109.50" r="1.25" fill="#58925b"/>
<circle cx="120.50" cy="112.50" r="1.25" fill="#58925b"/>
<circle cx="122.00" cy="114.50" r="1.25" fill="#58925b"/>
<circle cx="117.50" cy="117.50" r="1.25" fill="#5a845f"/>
<circle cx="121.00" cy="95.50" r="1.25" fill="#5a845f"/>
<line x1="114.87" y1="110" x2="122.87" y2="110" stroke="#2a362a" stroke-width="1.05"/>
<circle cx="138.80" cy="105.00" r="2.4" fill="#4fd04f" fill-opacity="0.35"/>
<circle cx="141.11" cy="106.69" r="2.4" fill="#4fd04f" fill-opacity="0.35"/>
<circle cx="143.11" cy="107.47" r="2.4" fill="#4fd04f" fill-opacity="0.35"/>
<circle cx="142.80" cy="108.57" r="2.4" fill="#4fd04f" fill-opacity="0.35"/>
<circle cx="139.77" cy="109.70" r="2.4" fill="#4fd04f" fill-opacity="0.35"/>
<circle cx="143.12" cy="109.83" r="2.4" fill="#4fd04f" fill-opacity="0.35"/>
<circle cx="139.17" cy="111.01" r="2.4" fill="#4fd04f" fill-opacity="0.35"/>
<circle cx="140.67" cy="110.60" r="2.4" fill="#4fd04f" fill-opacity="0.35"/>
<circle cx="139.68" cy="111.27" r="2.4" fill="#4fd04f" fill-opacity="0.35"/>
<circle cx="141.78" cy="112.01" r="2.4" fill="#4fd04f" fill-opacity="0.35"/>
<circle cx="142.90" cy="113.88" r="2.4" fill="#4fd04f" fill-opacity="0.35"/>
<circle cx="142.01" cy="113.62" r="2.4" fill="#4fd04f" fill-opacity="0.35"/>
<circle cx="139.20" cy="115.17" r="2.4" fill="#4fd04f" fill-opacity="0.35"/>
<circle cx="143.24" cy="116.26" r="2.4" fill="#4fd04f" fill-opacity="0.35"/>
<circle cx="143.17" cy="115.94" r="2.4" fill="#4fd04f" fill-opacity="0.35"/>
<circle cx="140.89" cy="116.97" r="2.4" fill="#4fd04f" fill-opacity="0.35"/>
<circle cx="138.80" cy="120.90" r="2.4" fill="#4fd04f" fill-opacity="0.35"/>
<circle cx="143.80" cy="123.80" r="2.4" fill="#4fd04f" fill-opacity="0.35"/>
<circle cx="142.50" cy="125.50" r="2.4" fill="#4fd04f" fill-opacity="0.35"/>
<circle cx="138.80" cy="128.20" r="2.4" fill="#4fd04f" fill-opacity="0.35"/>
<circle cx="140.50" cy="119.50" r="2.4" fill="#4fd04f" fill-opacity="0.35"/>
<circle cx="143.80" cy="136.10" r="2.4" fill="#4fd04f" fill-opacity="0.35"/>
<circle cx="138.80" cy="143.10" r="2.4" fill="#4fd04f" fill-opacity="0.35"/>
<circle cx="142.40" cy="143.10" r="2.4" fill="#4fd04f" fill-opacity="0.35"/>
<circle cx="138.80" cy="105.00" r="1.25" fill="#5a845f"/>
<circle cx="141.11" cy="106.69" r="1.25" fill="#56a157"/>
<circle cx="143.11" cy="107.47" r="1.25" fill="#54af54"/>
<circle cx="142.80" cy="108.57" r="1.25" fill="#54af54"/>
<circle cx="139.77" cy="109.70" r="1.25" fill="#54af54"/>
<circle cx="143.12" cy="109.83" r="1.25" fill="#52be50"/>
<circle cx="139.17" cy="111.01" r="1.25" fill="#54af54"/>
<circle cx="140.67" cy="110.60" r="1.25" fill="#50cc4c"/>
<circle cx="139.68" cy="111.27" r="1.25" fill="#52be50"/>
<circle cx="141.78" cy="112.01" r="1.25" fill="#50cc4c"/>
<circle cx="142.90" cy="113.88" r="1.25" fill="#52be50"/>
<circle cx="142.01" cy="113.62" r="1.25" fill="#54af54"/>
<circle cx="139.20" cy="115.17" r="1.25" fill="#58925b"/>
<circle cx="143.24" cy="116.26" r="1.25" fill="#54af54"/>
<circle cx="143.17" cy="115.94" r="1.25" fill="#52be50"/>
<circle cx="140.89" cy="116.97" r="1.25" fill="#52be50"/>
<circle cx="138.80" cy="120.90" r="1.25" fill="#58925b"/>
<circle cx="143.80" cy="123.80" r="1.25" fill="#58925b"/>
<circle cx="142.50" cy="125.50" r="1.25" fill="#58925b"/>
<circle cx="138.80" cy="128.20" r="1.25" fill="#5a845f"/>
<circle cx="140.50" cy="119.50" r="1.25" fill="#56a157"/>
<circle cx="143.80" cy="136.10" r="1.25" fill="#5a845f"/>
<circle cx="138.80" cy="143.10" r="1.25" fill="#5a845f"/>
<circle cx="142.40" cy="143.10" r="1.25" fill="#5a845f"/>
<line x1="136.56" y1="118.4" x2="144.56" y2="118.4" stroke="#2a362a" stroke-width="1.05"/>
<circle cx="165.00" cy="142.75" r="2.4" fill="#f59a30" fill-opacity="0.35"/>
<circle cx="161.25" cy="150.75" r="2.4" fill="#f59a30" fill-opacity="0.35"/>
<circle cx="165.00" cy="153.25" r="2.4" fill="#f59a30" fill-opacity="0.35"/>
<circle cx="160.50" cy="156.50" r="2.4" fill="#f59a30" fill-opacity="0.35"/>
<circle cx="166.25" cy="155.00" r="2.4" fill="#f59a30" fill-opacity="0.35"/>
<circle cx="164.03" cy="160.37" r="2.4" fill="#f59a30" fill-opacity="0.35"/>
<circle cx="162.19" cy="160.22" r="2.4" fill="#f59a30" fill-opacity="0.35"/>
<circle cx="161.76" cy="161.96" r="2.4" fill="#f59a30" fill-opacity="0.35"/>
<circle cx="161.67" cy="162.63" r="2.4" fill="#f59a30" fill-opacity="0.35"/>
<circle cx="160.29" cy="164.64" r="2.4" fill="#f59a30" fill-opacity="0.35"/>
<circle cx="162.23" cy="165.55" r="2.4" fill="#f59a30" fill-opacity="0.35"/>
<circle cx="161.72" cy="165.87" r="2.4" fill="#f59a30" fill-opacity="0.35"/>
<circle cx="162.56" cy="168.01" r="2.4" fill="#f59a30" fill-opacity="0.35"/>
<circle cx="164.73" cy="168.29" r="2.4" fill="#f59a30" fill-opacity="0.35"/>
<circle cx="164.67" cy="170.62" r="2.4" fill="#f59a30" fill-opacity="0.35"/>
<circle cx="165.00" cy="142.75" r="1.25" fill="#b27a46"/>
<circle cx="161.25" cy="150.75" r="1.25" fill="#b27a46"/>
<circle cx="165.00" cy="153.25" r="1.25" fill="#c77f3c"/>
<circle cx="160.50" cy="156.50" r="1.25" fill="#b27a46"/>
<circle cx="166.25" cy="155.00" r="1.25" fill="#c77f3c"/>
<circle cx="164.03" cy="160.37" r="1.25" fill="#db8532"/>
<circle cx="162.19" cy="160.22" r="1.25" fill="#f08a28"/>
<circle cx="161.76" cy="161.96" r="1.25" fill="#f08a28"/>
<circle cx="161.67" cy="162.63" r="1.25" fill="#f08a28"/>
<circle cx="160.29" cy="164.64" r="1.25" fill="#f08a28"/>
<circle cx="162.23" cy="165.55" r="1.25" fill="#f08a28"/>
<circle cx="161.72" cy="165.87" r="1.25" fill="#f08a28"/>
<circle cx="162.56" cy="168.01" r="1.25" fill="#f08a28"/>
<circle cx="164.73" cy="168.29" r="1.25" fill="#db8532"/>
<circle cx="164.67" cy="170.62" r="1.25" fill="#c77f3c"/>
<line x1="158.25" y1="160.75" x2="166.25" y2="160.75" stroke="#3a2618" stroke-width="1.05"/>
<circle cx="187.50" cy="141.50" r="2.4" fill="#f59a30" fill-opacity="0.35"/>
<circle cx="183.75" cy="150.75" r="2.4" fill="#f59a30" fill-opacity="0.35"/>
<circle cx="181.25" cy="157.00" r="2.4" fill="#f59a30" fill-opacity="0.35"/>
<circle cx="185.00" cy="155.75" r="2.4" fill="#f59a30" fill-opacity="0.35"/>
<circle cx="182.50" cy="162.50" r="2.4" fill="#f59a30" fill-opacity="0.35"/>
<circle cx="185.00" cy="164.00" r="2.4" fill="#f59a30" fill-opacity="0.35"/>
<circle cx="186.00" cy="159.00" r="2.4" fill="#f59a30" fill-opacity="0.35"/>
<circle cx="187.50" cy="141.50" r="1.25" fill="#b27a46"/>
<circle cx="183.75" cy="150.75" r="1.25" fill="#b27a46"/>
<circle cx="181.25" cy="157.00" r="1.25" fill="#b27a46"/>
<circle cx="185.00" cy="155.75" r="1.25" fill="#b27a46"/>
<circle cx="182.50" cy="162.50" r="1.25" fill="#c77f3c"/>
<circle cx="185.00" cy="164.00" r="1.25" fill="#c77f3c"/>
<circle cx="186.00" cy="159.00" r="1.25" fill="#b27a46"/>
<line x1="179.94" y1="158.25" x2="187.94" y2="158.25" stroke="#3a2618" stroke-width="1.05"/>
<circle cx="206.25" cy="142.00" r="2.4" fill="#f59a30" fill-opacity="0.35"/>
<circle cx="204.50" cy="151.50" r="2.4" fill="#f59a30" fill-opacity="0.35"/>
<circle cx="207.50" cy="150.75" r="2.4" fill="#f59a30" fill-opacity="0.35"/>
<circle cx="204.32" cy="152.84" r="2.4" fill="#f59a30" fill-opacity="0.35"/>
<circle cx="207.45" cy="153.68" r="2.4" fill="#f59a30" fill-opacity="0.35"/>
<circle cx="203.49" cy="155.00" r="2.4" fill="#f59a30" fill-opacity="0.35"/>
<circle cx="208.26" cy="156.19" r="2.4" fill="#f59a30" fill-opacity="0.35"/>
<circle cx="204.28" cy="157.77" r="2.4" fill="#f59a30" fill-opacity="0.35"/>
<circle cx="208.31" cy="157.64" r="2.4" fill="#f59a30" fill-opacity="0.35"/>
<circle cx="206.97" cy="159.26" r="2.4" fill="#f59a30" fill-opacity="0.35"/>
<circle cx="203.05" cy="159.44" r="2.4" fill="#f59a30" fill-opacity="0.35"/>
<circle cx="205.29" cy="161.35" r="2.4" fill="#f59a30" fill-opacity="0.35"/>
<circle cx="208.42" cy="161.31" r="2.4" fill="#f59a30" fill-opacity="0.35"/>
<circle cx="207.59" cy="163.15" r="2.4" fill="#f59a30" fill-opacity="0.35"/>
<circle cx="207.92" cy="163.22" r="2.4" fill="#f59a30" fill-opacity="0.35"/>
<circle cx="207.96" cy="164.14" r="2.4" fill="#f59a30" fill-opacity="0.35"/>
<circle cx="204.77" cy="165.70" r="2.4" fill="#f59a30" fill-opacity="0.35"/>
<circle cx="208.35" cy="166.81" r="2.4" fill="#f59a30" fill-opacity="0.35"/>
<circle cx="203.49" cy="167.30" r="2.4" fill="#f59a30" fill-opacity="0.35"/>
<circle cx="204.15" cy="168.66" r="2.4" fill="#f59a30" fill-opacity="0.35"/>
<circle cx="203.68" cy="168.94" r="2.4" fill="#f59a30" fill-opacity="0.35"/>
<circle cx="203.93" cy="169.79" r="2.4" fill="#f59a30" fill-opacity="0.35"/>
<circle cx="204.56" cy="171.15" r="2.4" fill="#f59a30" fill-opacity="0.35"/>
<circle cx="204.47" cy="172.82" r="2.4" fill="#f59a30" fill-opacity="0.35"/>
<circle cx="203.79" cy="173.35" r="2.4" fill="#f59a30" fill-opacity="0.35"/>
<circle cx="202.81" cy="174.05" r="2.4" fill="#f59a30" fill-opacity="0.35"/>
<circle cx="202.79" cy="174.84" r="2.4" fill="#f59a30" fill-opacity="0.35"/>
<circle cx="206.06" cy="176.56" r="2.4" fill="#f59a30" fill-opacity="0.35"/>
<circle cx="205.60" cy="176.64" r="2.4" fill="#f59a30" fill-opacity="0.35"/>
<circle cx="203.35" cy="178.78" r="2.4" fill="#f59a30" fill-opacity="0.35"/>
<circle cx="205.34" cy="179.54" r="2.4" fill="#f59a30" fill-opacity="0.35"/>
<circle cx="206.25" cy="142.00" r="1.25" fill="#b27a46"/>
<circle cx="204.50" cy="151.50" r="1.25" fill="#db8532"/>
<circle cx="207.50" cy="150.75" r="1.25" fill="#db8532"/>
<circle cx="204.32" cy="152.84" r="1.25" fill="#db8532"/>
<circle cx="207.45" cy="153.68" r="1.25" fill="#db8532"/>
<circle cx="203.49" cy="155.00" r="1.25" fill="#db8532"/>
<circle cx="208.26" cy="156.19" r="1.25" fill="#db8532"/>
<circle cx="204.28" cy="157.77" r="1.25" fill="#f08a28"/>
<circle cx="208.31" cy="157.64" r="1.25" fill="#db8532"/>
<circle cx="206.97" cy="159.26" r="1.25" fill="#f08a28"/>
<circle cx="203.05" cy="159.44" r="1.25" fill="#db8532"/>
<circle cx="205.29" cy="161.35" r="1.25" fill="#f08a28"/>
<circle cx="208.42" cy="161.31" r="1.25" fill="#f08a28"/>
<circle cx="207.59" cy="163.15" r="1.25" fill="#f08a28"/>
<circle cx="207.92" cy="163.22" r="1.25" fill="#f08a28"/>
<circle cx="207.96" cy="164.14" r="1.25" fill="#f08a28"/>
<circle cx="204.77" cy="165.70" r="1.25" fill="#db8532"/>
<circle cx="208.35" cy="166.81" r="1.25" fill="#c77f3c"/>
<circle cx="203.49" cy="167.30" r="1.25" fill="#f08a28"/>
<circle cx="204.15" cy="168.66" r="1.25" fill="#f08a28"/>
<circle cx="203.68" cy="168.94" r="1.25" fill="#f08a28"/>
<circle cx="203.93" cy="169.79" r="1.25" fill="#f08a28"/>
<circle cx="204.56" cy="171.15" r="1.25" fill="#f08a28"/>
<circle cx="204.47" cy="172.82" r="1.25" fill="#f08a28"/>
<circle cx="203.79" cy="173.35" r="1.25" fill="#f08a28"/>
<circle cx="202.81" cy="174.05" r="1.25" fill="#f08a28"/>
<circle cx="202.79" cy="174.84" r="1.25" fill="#f08a28"/>
<circle cx="206.06" cy="176.56" r="1.25" fill="#db8532"/>
<circle cx="205.60" cy="176.64" r="1.25" fill="#f08a28"/>
<circle cx="203.35" cy="178.78" r="1.25" fill="#db8532"/>
<circle cx="205.34" cy="179.54" r="1.25" fill="#f08a28"/>
<line x1="201.63" y1="164.5" x2="209.63" y2="164.5" stroke="#3a2618" stroke-width="1.05"/>
<circle cx="228.75" cy="139.00" r="2.4" fill="#f59a30" fill-opacity="0.35"/>
<circle cx="227.50" cy="148.25" r="2.4" fill="#f59a30" fill-opacity="0.35"/>
<circle cx="225.00" cy="152.00" r="2.4" fill="#f59a30" fill-opacity="0.35"/>
<circle cx="230.00" cy="151.50" r="2.4" fill="#f59a30" fill-opacity="0.35"/>
<circle cx="228.62" cy="155.22" r="2.4" fill="#f59a30" fill-opacity="0.35"/>
<circle cx="227.28" cy="156.52" r="2.4" fill="#f59a30" fill-opacity="0.35"/>
<circle cx="229.23" cy="158.45" r="2.4" fill="#f59a30" fill-opacity="0.35"/>
<circle cx="228.61" cy="159.35" r="2.4" fill="#f59a30" fill-opacity="0.35"/>
<circle cx="227.81" cy="161.39" r="2.4" fill="#f59a30" fill-opacity="0.35"/>
<circle cx="226.62" cy="162.37" r="2.4" fill="#f59a30" fill-opacity="0.35"/>
<circle cx="225.73" cy="163.27" r="2.4" fill="#f59a30" fill-opacity="0.35"/>
<circle cx="228.24" cy="164.75" r="2.4" fill="#f59a30" fill-opacity="0.35"/>
<circle cx="225.87" cy="166.50" r="2.4" fill="#f59a30" fill-opacity="0.35"/>
<circle cx="228.65" cy="167.69" r="2.4" fill="#f59a30" fill-opacity="0.35"/>
<circle cx="227.95" cy="170.41" r="2.4" fill="#f59a30" fill-opacity="0.35"/>
<circle cx="226.19" cy="170.92" r="2.4" fill="#f59a30" fill-opacity="0.35"/>
<circle cx="228.75" cy="139.00" r="1.25" fill="#b27a46"/>
<circle cx="227.50" cy="148.25" r="1.25" fill="#b27a46"/>
<circle cx="225.00" cy="152.00" r="1.25" fill="#b27a46"/>
<circle cx="230.00" cy="151.50" r="1.25" fill="#b27a46"/>
<circle cx="228.62" cy="155.22" r="1.25" fill="#c77f3c"/>
<circle cx="227.28" cy="156.52" r="1.25" fill="#f08a28"/>
<circle cx="229.23" cy="158.45" r="1.25" fill="#db8532"/>
<circle cx="228.61" cy="159.35" r="1.25" fill="#f08a28"/>
<circle cx="227.81" cy="161.39" r="1.25" fill="#f08a28"/>
<circle cx="226.62" cy="162.37" r="1.25" fill="#f08a28"/>
<circle cx="225.73" cy="163.27" r="1.25" fill="#f08a28"/>
<circle cx="228.24" cy="164.75" r="1.25" fill="#f08a28"/>
<circle cx="225.87" cy="166.50" r="1.25" fill="#db8532"/>
<circle cx="228.65" cy="167.69" r="1.25" fill="#f08a28"/>
<circle cx="227.95" cy="170.41" r="1.25" fill="#db8532"/>
<circle cx="226.19" cy="170.92" r="1.25" fill="#c77f3c"/>
<line x1="223.32" y1="160.75" x2="231.32" y2="160.75" stroke="#3a2618" stroke-width="1.05"/>
<circle cx="252.00" cy="165.00" r="2.4" fill="#f59a30" fill-opacity="0.35"/>
<circle cx="249.50" cy="174.00" r="2.4" fill="#f59a30" fill-opacity="0.35"/>
<circle cx="252.00" cy="165.00" r="1.25" fill="#b27a46"/>
<circle cx="249.50" cy="174.00" r="1.25" fill="#b27a46"/>
<line x1="245.01" y1="170.25" x2="253.01" y2="170.25" stroke="#636378" stroke-width="1.05"/>
<rect x="45" y="96.7" width="215.30" height="85.90" fill="none" stroke="#2a2a2a" stroke-width="1.3"/>
<line x1="39.20" y1="102.30" x2="45.00" y2="102.30" stroke="#2a2a2a" stroke-width="1.3"/>
<text transform="translate(33.20,106.41) scale(1,1.17)" text-anchor="end" font-family='"Liberation Sans", sans-serif' font-size="9.3" fill="#222" stroke="#222" stroke-width="0.3">6.2</text>
<line x1="39.20" y1="113.62" x2="45.00" y2="113.62" stroke="#2a2a2a" stroke-width="1.3"/>
<text transform="translate(33.20,117.73) scale(1,1.17)" text-anchor="end" font-family='"Liberation Sans", sans-serif' font-size="9.3" fill="#222" stroke="#222" stroke-width="0.3">6.0</text>
<line x1="39.20" y1="124.94" x2="45.00" y2="124.94" stroke="#2a2a2a" stroke-width="1.3"/>
<text transform="translate(33.20,129.05) scale(1,1.17)" text-anchor="end" font-family='"Liberation Sans", sans-serif' font-size="9.3" fill="#222" stroke="#222" stroke-width="0.3">5.8</text>
<line x1="39.20" y1="136.26" x2="45.00" y2="136.26" stroke="#2a2a2a" stroke-width="1.3"/>
<text transform="translate(33.20,140.37) scale(1,1.17)" text-anchor="end" font-family='"Liberation Sans", sans-serif' font-size="9.3" fill="#222" stroke="#222" stroke-width="0.3">5.6</text>
<line x1="39.20" y1="147.58" x2="45.00" y2="147.58" stroke="#2a2a2a" stroke-width="1.3"/>
<text transform="translate(33.20,151.69) scale(1,1.17)" text-anchor="end" font-family='"Liberation Sans", sans-serif' font-size="9.3" fill="#222" stroke="#222" stroke-width="0.3">5.4</text>
<line x1="39.20" y1="158.90" x2="45.00" y2="158.90" stroke="#2a2a2a" stroke-width="1.3"/>
<text transform="translate(33.20,163.01) scale(1,1.17)" text-anchor="end" font-family='"Liberation Sans", sans-serif' font-size="9.3" fill="#222" stroke="#222" stroke-width="0.3">5.2</text>
<line x1="39.20" y1="170.22" x2="45.00" y2="170.22" stroke="#2a2a2a" stroke-width="1.3"/>
<text transform="translate(33.20,174.33) scale(1,1.17)" text-anchor="end" font-family='"Liberation Sans", sans-serif' font-size="9.3" fill="#222" stroke="#222" stroke-width="0.3">5.0</text>
<line x1="39.20" y1="181.54" x2="45.00" y2="181.54" stroke="#2a2a2a" stroke-width="1.3"/>
<text transform="translate(256.30,112.70) scale(1,1.0)" text-anchor="end" font-family='"Liberation Sans", sans-serif' font-size="12.2" fill="#1a1a1a" stroke="#1a1a1a" stroke-width="0.3">miR−663b</text>
<circle cx="53.75" cy="207.25" r="2.4" fill="#4fd04f" fill-opacity="0.35"/>
<circle cx="54.00" cy="209.90" r="2.4" fill="#4fd04f" fill-opacity="0.35"/>
<circle cx="53.92" cy="210.65" r="2.4" fill="#4fd04f" fill-opacity="0.35"/>
<circle cx="57.07" cy="211.79" r="2.4" fill="#4fd04f" fill-opacity="0.35"/>
<circle cx="54.54" cy="213.89" r="2.4" fill="#4fd04f" fill-opacity="0.35"/>
<circle cx="57.09" cy="213.69" r="2.4" fill="#4fd04f" fill-opacity="0.35"/>
<circle cx="53.38" cy="214.76" r="2.4" fill="#4fd04f" fill-opacity="0.35"/>
<circle cx="53.53" cy="215.23" r="2.4" fill="#4fd04f" fill-opacity="0.35"/>
<circle cx="54.27" cy="216.95" r="2.4" fill="#4fd04f" fill-opacity="0.35"/>
<circle cx="54.28" cy="217.48" r="2.4" fill="#4fd04f" fill-opacity="0.35"/>
<circle cx="52.81" cy="218.13" r="2.4" fill="#4fd04f" fill-opacity="0.35"/>
<circle cx="53.64" cy="219.24" r="2.4" fill="#4fd04f" fill-opacity="0.35"/>
<circle cx="51.34" cy="220.12" r="2.4" fill="#4fd04f" fill-opacity="0.35"/>
<circle cx="52.62" cy="221.51" r="2.4" fill="#4fd04f" fill-opacity="0.35"/>
<circle cx="54.43" cy="222.93" r="2.4" fill="#4fd04f" fill-opacity="0.35"/>
<circle cx="55.21" cy="224.16" r="2.4" fill="#4fd04f" fill-opacity="0.35"/>
<circle cx="56.56" cy="225.07" r="2.4" fill="#4fd04f" fill-opacity="0.35"/>
<circle cx="53.19" cy="225.51" r="2.4" fill="#4fd04f" fill-opacity="0.35"/>
<circle cx="52.11" cy="227.43" r="2.4" fill="#4fd04f" fill-opacity="0.35"/>
<circle cx="55.12" cy="227.98" r="2.4" fill="#4fd04f" fill-opacity="0.35"/>
<circle cx="56.30" cy="227.86" r="2.4" fill="#4fd04f" fill-opacity="0.35"/>
<circle cx="55.03" cy="230.18" r="2.4" fill="#4fd04f" fill-opacity="0.35"/>
<circle cx="56.15" cy="230.89" r="2.4" fill="#4fd04f" fill-opacity="0.35"/>
<circle cx="53.75" cy="233.00" r="2.4" fill="#4fd04f" fill-opacity="0.35"/>
<circle cx="52.50" cy="242.25" r="2.4" fill="#4fd04f" fill-opacity="0.35"/>
<circle cx="51.25" cy="265.50" r="2.4" fill="#4fd04f" fill-opacity="0.35"/>
<circle cx="57.50" cy="265.50" r="2.4" fill="#4fd04f" fill-opacity="0.35"/>
<circle cx="53.75" cy="268.50" r="2.4" fill="#4fd04f" fill-opacity="0.35"/>
<circle cx="55.00" cy="271.00" r="2.4" fill="#4fd04f" fill-opacity="0.35"/>
<circle cx="52.50" cy="269.00" r="2.4" fill="#4fd04f" fill-opacity="0.35"/>
<circle cx="56.50" cy="268.00" r="2.4" fill="#4fd04f" fill-opacity="0.35"/>
<circle cx="53.75" cy="207.25" r="1.25" fill="#5a845f"/>
<circle cx="54.00" cy="209.90" r="1.25" fill="#58925b"/>
<circle cx="53.92" cy="210.65" r="1.25" fill="#58925b"/>
<circle cx="57.07" cy="211.79" r="1.25" fill="#58925b"/>
<circle cx="54.54" cy="213.89" r="1.25" fill="#54af54"/>
<circle cx="57.09" cy="213.69" r="1.25" fill="#56a157"/>
<circle cx="53.38" cy="214.76" r="1.25" fill="#54af54"/>
<circle cx="53.53" cy="215.23" r="1.25" fill="#52be50"/>
<circle cx="54.27" cy="216.95" r="1.25" fill="#50cc4c"/>
<circle cx="54.28" cy="217.48" r="1.25" fill="#52be50"/>
<circle cx="52.81" cy="218.13" r="1.25" fill="#52be50"/>
<circle cx="53.64" cy="219.24" r="1.25" fill="#50cc4c"/>
<circle cx="51.34" cy="220.12" r="1.25" fill="#54af54"/>
<circle cx="52.62" cy="221.51" r="1.25" fill="#54af54"/>
<circle cx="54.43" cy="222.93" r="1.25" fill="#56a157"/>
<circle cx="55.21" cy="224.16" r="1.25" fill="#54af54"/>
<circle cx="56.56" cy="225.07" r="1.25" fill="#58925b"/>
<circle cx="53.19" cy="225.51" r="1.25" fill="#56a157"/>
<circle cx="52.11" cy="227.43" r="1.25" fill="#58925b"/>
<circle cx="55.12" cy="227.98" r="1.25" fill="#56a157"/>
<circle cx="56.30" cy="227.86" r="1.25" fill="#58925b"/>
<circle cx="55.03" cy="230.18" r="1.25" fill="#56a157"/>
<circle cx="56.15" cy="230.89" r="1.25" fill="#58925b"/>
<circle cx="53.75" cy="233.00" r="1.25" fill="#5a845f"/>
<circle cx="52.50" cy="242.25" r="1.25" fill="#5a845f"/>
<circle cx="51.25" cy="265.50" r="1.25" fill="#5a845f"/>
<circle cx="57.50" cy="265.50" r="1.25" fill="#5a845f"/>
<circle cx="53.75" cy="268.50" r="1.25" fill="#58925b"/>
<circle cx="55.00" cy="271.00" r="1.25" fill="#5a845f"/>
<circle cx="52.50" cy="269.00" r="1.25" fill="#58925b"/>
<circle cx="56.50" cy="268.00" r="1.25" fill="#5a845f"/>
<line x1="49.80" y1="229" x2="57.80" y2="229" stroke="#2a362a" stroke-width="1.05"/>
<circle cx="73.00" cy="213.00" r="2.4" fill="#4fd04f" fill-opacity="0.35"/>
<circle cx="75.50" cy="218.50" r="2.4" fill="#4fd04f" fill-opacity="0.35"/>
<circle cx="73.75" cy="221.00" r="2.4" fill="#4fd04f" fill-opacity="0.35"/>
<circle cx="78.75" cy="224.00" r="2.4" fill="#4fd04f" fill-opacity="0.35"/>
<circle cx="77.00" cy="261.00" r="2.4" fill="#4fd04f" fill-opacity="0.35"/>
<circle cx="73.00" cy="213.00" r="1.25" fill="#5a845f"/>
<circle cx="75.50" cy="218.50" r="1.25" fill="#5a845f"/>
<circle cx="73.75" cy="221.00" r="1.25" fill="#5a845f"/>
<circle cx="78.75" cy="224.00" r="1.25" fill="#5a845f"/>
<circle cx="77.00" cy="261.00" r="1.25" fill="#5a845f"/>
<line x1="71.49" y1="227.5" x2="79.49" y2="227.5" stroke="#3a3c3a" stroke-width="1.05"/>
<circle cx="96.25" cy="206.00" r="2.4" fill="#4fd04f" fill-opacity="0.35"/>
<circle cx="95.00" cy="212.25" r="2.4" fill="#4fd04f" fill-opacity="0.35"/>
<circle cx="97.50" cy="214.75" r="2.4" fill="#4fd04f" fill-opacity="0.35"/>
<circle cx="99.50" cy="216.50" r="2.4" fill="#4fd04f" fill-opacity="0.35"/>
<circle cx="95.00" cy="222.25" r="2.4" fill="#4fd04f" fill-opacity="0.35"/>
<circle cx="97.50" cy="226.00" r="2.4" fill="#4fd04f" fill-opacity="0.35"/>
<circle cx="96.25" cy="228.50" r="2.4" fill="#4fd04f" fill-opacity="0.35"/>
<circle cx="96.25" cy="206.00" r="1.25" fill="#5a845f"/>
<circle cx="95.00" cy="212.25" r="1.25" fill="#5a845f"/>
<circle cx="97.50" cy="214.75" r="1.25" fill="#5a845f"/>
<circle cx="99.50" cy="216.50" r="1.25" fill="#5a845f"/>
<circle cx="95.00" cy="222.25" r="1.25" fill="#5a845f"/>
<circle cx="97.50" cy="226.00" r="1.25" fill="#5a845f"/>
<circle cx="96.25" cy="228.50" r="1.25" fill="#5a845f"/>
<line x1="93.18" y1="218.5" x2="101.18" y2="218.5" stroke="#3a3c3a" stroke-width="1.05"/>
<circle cx="117.50" cy="211.50" r="2.4" fill="#4fd04f" fill-opacity="0.35"/>
<circle cx="121.25" cy="209.75" r="2.4" fill="#4fd04f" fill-opacity="0.35"/>
<circle cx="118.75" cy="215.50" r="2.4" fill="#4fd04f" fill-opacity="0.35"/>
<circle cx="119.50" cy="221.00" r="2.4" fill="#4fd04f" fill-opacity="0.35"/>
<circle cx="122.50" cy="224.75" r="2.4" fill="#4fd04f" fill-opacity="0.35"/>
<circle cx="120.00" cy="218.00" r="2.4" fill="#4fd04f" fill-opacity="0.35"/>
<circle cx="117.50" cy="211.50" r="1.25" fill="#5a845f"/>
<circle cx="121.25" cy="209.75" r="1.25" fill="#5a845f"/>
<circle cx="118.75" cy="215.50" r="1.25" fill="#5a845f"/>
<circle cx="119.50" cy="221.00" r="1.25" fill="#5a845f"/>
<circle cx="122.50" cy="224.75" r="1.25" fill="#5a845f"/>
<circle cx="120.00" cy="218.00" r="1.25" fill="#5a845f"/>
<line x1="114.87" y1="219" x2="122.87" y2="219" stroke="#3a3c3a" stroke-width="1.05"/>
<circle cx="140.40" cy="209.10" r="2.4" fill="#4fd04f" fill-opacity="0.35"/>
<circle cx="141.11" cy="210.40" r="2.4" fill="#4fd04f" fill-opacity="0.35"/>
<circle cx="142.61" cy="211.94" r="2.4" fill="#4fd04f" fill-opacity="0.35"/>
<circle cx="142.57" cy="213.38" r="2.4" fill="#4fd04f" fill-opacity="0.35"/>
<circle cx="142.89" cy="213.99" r="2.4" fill="#4fd04f" fill-opacity="0.35"/>
<circle cx="141.93" cy="215.11" r="2.4" fill="#4fd04f" fill-opacity="0.35"/>
<circle cx="138.75" cy="215.34" r="2.4" fill="#4fd04f" fill-opacity="0.35"/>
<circle cx="140.33" cy="216.14" r="2.4" fill="#4fd04f" fill-opacity="0.35"/>
<circle cx="142.61" cy="217.06" r="2.4" fill="#4fd04f" fill-opacity="0.35"/>
<circle cx="141.61" cy="218.74" r="2.4" fill="#4fd04f" fill-opacity="0.35"/>
<circle cx="141.87" cy="219.81" r="2.4" fill="#4fd04f" fill-opacity="0.35"/>
<circle cx="138.62" cy="220.55" r="2.4" fill="#4fd04f" fill-opacity="0.35"/>
<circle cx="142.19" cy="222.00" r="2.4" fill="#4fd04f" fill-opacity="0.35"/>
<circle cx="141.17" cy="222.48" r="2.4" fill="#4fd04f" fill-opacity="0.35"/>
<circle cx="138.92" cy="223.69" r="2.4" fill="#4fd04f" fill-opacity="0.35"/>
<circle cx="139.81" cy="224.77" r="2.4" fill="#4fd04f" fill-opacity="0.35"/>
<circle cx="139.87" cy="224.67" r="2.4" fill="#4fd04f" fill-opacity="0.35"/>
<circle cx="139.59" cy="226.68" r="2.4" fill="#4fd04f" fill-opacity="0.35"/>
<circle cx="143.28" cy="227.65" r="2.4" fill="#4fd04f" fill-opacity="0.35"/>
<circle cx="140.44" cy="228.22" r="2.4" fill="#4fd04f" fill-opacity="0.35"/>
<circle cx="141.88" cy="229.15" r="2.4" fill="#4fd04f" fill-opacity="0.35"/>
<circle cx="141.56" cy="230.57" r="2.4" fill="#4fd04f" fill-opacity="0.35"/>
<circle cx="138.97" cy="231.33" r="2.4" fill="#4fd04f" fill-opacity="0.35"/>
<circle cx="139.82" cy="231.50" r="2.4" fill="#4fd04f" fill-opacity="0.35"/>
<circle cx="140.06" cy="233.41" r="2.4" fill="#4fd04f" fill-opacity="0.35"/>
<circle cx="142.00" cy="234.80" r="2.4" fill="#4fd04f" fill-opacity="0.35"/>
<circle cx="145.00" cy="234.50" r="2.4" fill="#4fd04f" fill-opacity="0.35"/>
<circle cx="140.40" cy="209.10" r="1.25" fill="#58925b"/>
<circle cx="141.11" cy="210.40" r="1.25" fill="#56a157"/>
<circle cx="142.61" cy="211.94" r="1.25" fill="#54af54"/>
<circle cx="142.57" cy="213.38" r="1.25" fill="#54af54"/>
<circle cx="142.89" cy="213.99" r="1.25" fill="#54af54"/>
<circle cx="141.93" cy="215.11" r="1.25" fill="#52be50"/>
<circle cx="138.75" cy="215.34" r="1.25" fill="#58925b"/>
<circle cx="140.33" cy="216.14" r="1.25" fill="#54af54"/>
<circle cx="142.61" cy="217.06" r="1.25" fill="#54af54"/>
<circle cx="141.61" cy="218.74" r="1.25" fill="#56a157"/>
<circle cx="141.87" cy="219.81" r="1.25" fill="#56a157"/>
<circle cx="138.62" cy="220.55" r="1.25" fill="#5a845f"/>
<circle cx="142.19" cy="222.00" r="1.25" fill="#56a157"/>
<circle cx="141.17" cy="222.48" r="1.25" fill="#54af54"/>
<circle cx="138.92" cy="223.69" r="1.25" fill="#54af54"/>
<circle cx="139.81" cy="224.77" r="1.25" fill="#54af54"/>
<circle cx="139.87" cy="224.67" r="1.25" fill="#52be50"/>
<circle cx="139.59" cy="226.68" r="1.25" fill="#54af54"/>
<circle cx="143.28" cy="227.65" r="1.25" fill="#58925b"/>
<circle cx="140.44" cy="228.22" r="1.25" fill="#56a157"/>
<circle cx="141.88" cy="229.15" r="1.25" fill="#54af54"/>
<circle cx="141.56" cy="230.57" r="1.25" fill="#56a157"/>
<circle cx="138.97" cy="231.33" r="1.25" fill="#56a157"/>
<circle cx="139.82" cy="231.50" r="1.25" fill="#54af54"/>
<circle cx="140.06" cy="233.41" r="1.25" fill="#54af54"/>
<circle cx="142.00" cy="234.80" r="1.25" fill="#58925b"/>
<circle cx="145.00" cy="234.50" r="1.25" fill="#5a845f"/>
<line x1="136.56" y1="222.4" x2="144.56" y2="222.4" stroke="#2a362a" stroke-width="1.05"/>
<circle cx="165.50" cy="193.50" r="2.4" fill="#f59a30" fill-opacity="0.35"/>
<circle cx="162.50" cy="221.00" r="2.4" fill="#f59a30" fill-opacity="0.35"/>
<circle cx="160.00" cy="263.98" r="2.4" fill="#f59a30" fill-opacity="0.35"/>
<circle cx="161.12" cy="263.92" r="2.4" fill="#f59a30" fill-opacity="0.35"/>
<circle cx="162.96" cy="265.65" r="2.4" fill="#f59a30" fill-opacity="0.35"/>
<circle cx="161.22" cy="266.41" r="2.4" fill="#f59a30" fill-opacity="0.35"/>
<circle cx="161.97" cy="266.90" r="2.4" fill="#f59a30" fill-opacity="0.35"/>
<circle cx="160.47" cy="267.57" r="2.4" fill="#f59a30" fill-opacity="0.35"/>
<circle cx="160.82" cy="269.00" r="2.4" fill="#f59a30" fill-opacity="0.35"/>
<circle cx="164.02" cy="269.89" r="2.4" fill="#f59a30" fill-opacity="0.35"/>
<circle cx="161.95" cy="269.10" r="2.4" fill="#f59a30" fill-opacity="0.35"/>
<circle cx="164.16" cy="271.14" r="2.4" fill="#f59a30" fill-opacity="0.35"/>
<circle cx="161.12" cy="271.29" r="2.4" fill="#f59a30" fill-opacity="0.35"/>
<circle cx="164.06" cy="271.66" r="2.4" fill="#f59a30" fill-opacity="0.35"/>
<circle cx="162.48" cy="272.41" r="2.4" fill="#f59a30" fill-opacity="0.35"/>
<circle cx="162.23" cy="273.05" r="2.4" fill="#f59a30" fill-opacity="0.35"/>
<circle cx="165.50" cy="193.50" r="1.25" fill="#b27a46"/>
<circle cx="162.50" cy="221.00" r="1.25" fill="#b27a46"/>
<circle cx="160.00" cy="263.98" r="1.25" fill="#db8532"/>
<circle cx="161.12" cy="263.92" r="1.25" fill="#f08a28"/>
<circle cx="162.96" cy="265.65" r="1.25" fill="#f08a28"/>
<circle cx="161.22" cy="266.41" r="1.25" fill="#f08a28"/>
<circle cx="161.97" cy="266.90" r="1.25" fill="#f08a28"/>
<circle cx="160.47" cy="267.57" r="1.25" fill="#f08a28"/>
<circle cx="160.82" cy="269.00" r="1.25" fill="#f08a28"/>
<circle cx="164.02" cy="269.89" r="1.25" fill="#f08a28"/>
<circle cx="161.95" cy="269.10" r="1.25" fill="#f08a28"/>
<circle cx="164.16" cy="271.14" r="1.25" fill="#f08a28"/>
<circle cx="161.12" cy="271.29" r="1.25" fill="#f08a28"/>
<circle cx="164.06" cy="271.66" r="1.25" fill="#f08a28"/>
<circle cx="162.48" cy="272.41" r="1.25" fill="#f08a28"/>
<circle cx="162.23" cy="273.05" r="1.25" fill="#f08a28"/>
<line x1="158.25" y1="261" x2="166.25" y2="261" stroke="#636378" stroke-width="1.05"/>
<circle cx="181.75" cy="212.25" r="2.4" fill="#f59a30" fill-opacity="0.35"/>
<circle cx="186.25" cy="254.75" r="2.4" fill="#f59a30" fill-opacity="0.35"/>
<circle cx="183.75" cy="265.50" r="2.4" fill="#f59a30" fill-opacity="0.35"/>
<circle cx="184.50" cy="270.50" r="2.4" fill="#f59a30" fill-opacity="0.35"/>
<circle cx="186.25" cy="263.50" r="2.4" fill="#f59a30" fill-opacity="0.35"/>
<circle cx="182.00" cy="264.00" r="2.4" fill="#f59a30" fill-opacity="0.35"/>
<circle cx="186.00" cy="268.00" r="2.4" fill="#f59a30" fill-opacity="0.35"/>
<circle cx="181.75" cy="212.25" r="1.25" fill="#b27a46"/>
<circle cx="186.25" cy="254.75" r="1.25" fill="#b27a46"/>
<circle cx="183.75" cy="265.50" r="1.25" fill="#c77f3c"/>
<circle cx="184.50" cy="270.50" r="1.25" fill="#c77f3c"/>
<circle cx="186.25" cy="263.50" r="1.25" fill="#b27a46"/>
<circle cx="182.00" cy="264.00" r="1.25" fill="#c77f3c"/>
<circle cx="186.00" cy="268.00" r="1.25" fill="#c77f3c"/>
<line x1="179.94" y1="263" x2="187.94" y2="263" stroke="#3a2618" stroke-width="1.05"/>
<circle cx="203.75" cy="229.75" r="2.4" fill="#f59a30" fill-opacity="0.35"/>
<circle cx="207.50" cy="229.75" r="2.4" fill="#f59a30" fill-opacity="0.35"/>
<circle cx="208.75" cy="237.25" r="2.4" fill="#f59a30" fill-opacity="0.35"/>
<circle cx="205.00" cy="239.75" r="2.4" fill="#f59a30" fill-opacity="0.35"/>
<circle cx="204.50" cy="244.75" r="2.4" fill="#f59a30" fill-opacity="0.35"/>
<circle cx="206.25" cy="247.25" r="2.4" fill="#f59a30" fill-opacity="0.35"/>
<circle cx="205.00" cy="251.00" r="2.4" fill="#f59a30" fill-opacity="0.35"/>
<circle cx="203.08" cy="255.81" r="2.4" fill="#f59a30" fill-opacity="0.35"/>
<circle cx="205.56" cy="256.27" r="2.4" fill="#f59a30" fill-opacity="0.35"/>
<circle cx="206.84" cy="257.04" r="2.4" fill="#f59a30" fill-opacity="0.35"/>
<circle cx="208.12" cy="256.66" r="2.4" fill="#f59a30" fill-opacity="0.35"/>
<circle cx="202.36" cy="257.74" r="2.4" fill="#f59a30" fill-opacity="0.35"/>
<circle cx="205.45" cy="257.64" r="2.4" fill="#f59a30" fill-opacity="0.35"/>
<circle cx="204.19" cy="259.02" r="2.4" fill="#f59a30" fill-opacity="0.35"/>
<circle cx="204.47" cy="259.20" r="2.4" fill="#f59a30" fill-opacity="0.35"/>
<circle cx="207.75" cy="260.15" r="2.4" fill="#f59a30" fill-opacity="0.35"/>
<circle cx="207.15" cy="260.31" r="2.4" fill="#f59a30" fill-opacity="0.35"/>
<circle cx="202.99" cy="262.32" r="2.4" fill="#f59a30" fill-opacity="0.35"/>
<circle cx="206.91" cy="263.13" r="2.4" fill="#f59a30" fill-opacity="0.35"/>
<circle cx="204.11" cy="263.76" r="2.4" fill="#f59a30" fill-opacity="0.35"/>
<circle cx="204.79" cy="263.59" r="2.4" fill="#f59a30" fill-opacity="0.35"/>
<circle cx="206.09" cy="265.26" r="2.4" fill="#f59a30" fill-opacity="0.35"/>
<circle cx="205.03" cy="264.91" r="2.4" fill="#f59a30" fill-opacity="0.35"/>
<circle cx="202.52" cy="265.44" r="2.4" fill="#f59a30" fill-opacity="0.35"/>
<circle cx="207.71" cy="265.83" r="2.4" fill="#f59a30" fill-opacity="0.35"/>
<circle cx="208.37" cy="266.80" r="2.4" fill="#f59a30" fill-opacity="0.35"/>
<circle cx="203.95" cy="267.41" r="2.4" fill="#f59a30" fill-opacity="0.35"/>
<circle cx="203.45" cy="268.50" r="2.4" fill="#f59a30" fill-opacity="0.35"/>
<circle cx="208.51" cy="268.94" r="2.4" fill="#f59a30" fill-opacity="0.35"/>
<circle cx="207.56" cy="270.43" r="2.4" fill="#f59a30" fill-opacity="0.35"/>
<circle cx="208.23" cy="270.70" r="2.4" fill="#f59a30" fill-opacity="0.35"/>
<circle cx="205.82" cy="271.86" r="2.4" fill="#f59a30" fill-opacity="0.35"/>
<circle cx="202.53" cy="272.18" r="2.4" fill="#f59a30" fill-opacity="0.35"/>
<circle cx="205.18" cy="272.87" r="2.4" fill="#f59a30" fill-opacity="0.35"/>
<circle cx="206.45" cy="273.57" r="2.4" fill="#f59a30" fill-opacity="0.35"/>
<circle cx="203.75" cy="229.75" r="1.25" fill="#b27a46"/>
<circle cx="207.50" cy="229.75" r="1.25" fill="#b27a46"/>
<circle cx="208.75" cy="237.25" r="1.25" fill="#b27a46"/>
<circle cx="205.00" cy="239.75" r="1.25" fill="#b27a46"/>
<circle cx="204.50" cy="244.75" r="1.25" fill="#c77f3c"/>
<circle cx="206.25" cy="247.25" r="1.25" fill="#c77f3c"/>
<circle cx="205.00" cy="251.00" r="1.25" fill="#b27a46"/>
<circle cx="203.08" cy="255.81" r="1.25" fill="#f08a28"/>
<circle cx="205.56" cy="256.27" r="1.25" fill="#f08a28"/>
<circle cx="206.84" cy="257.04" r="1.25" fill="#f08a28"/>
<circle cx="208.12" cy="256.66" r="1.25" fill="#f08a28"/>
<circle cx="202.36" cy="257.74" r="1.25" fill="#f08a28"/>
<circle cx="205.45" cy="257.64" r="1.25" fill="#f08a28"/>
<circle cx="204.19" cy="259.02" r="1.25" fill="#f08a28"/>
<circle cx="204.47" cy="259.20" r="1.25" fill="#f08a28"/>
<circle cx="207.75" cy="260.15" r="1.25" fill="#db8532"/>
<circle cx="207.15" cy="260.31" r="1.25" fill="#f08a28"/>
<circle cx="202.99" cy="262.32" r="1.25" fill="#f08a28"/>
<circle cx="206.91" cy="263.13" r="1.25" fill="#f08a28"/>
<circle cx="204.11" cy="263.76" r="1.25" fill="#f08a28"/>
<circle cx="204.79" cy="263.59" r="1.25" fill="#f08a28"/>
<circle cx="206.09" cy="265.26" r="1.25" fill="#f08a28"/>
<circle cx="205.03" cy="264.91" r="1.25" fill="#f08a28"/>
<circle cx="202.52" cy="265.44" r="1.25" fill="#f08a28"/>
<circle cx="207.71" cy="265.83" r="1.25" fill="#f08a28"/>
<circle cx="208.37" cy="266.80" r="1.25" fill="#f08a28"/>
<circle cx="203.95" cy="267.41" r="1.25" fill="#f08a28"/>
<circle cx="203.45" cy="268.50" r="1.25" fill="#db8532"/>
<circle cx="208.51" cy="268.94" r="1.25" fill="#f08a28"/>
<circle cx="207.56" cy="270.43" r="1.25" fill="#f08a28"/>
<circle cx="208.23" cy="270.70" r="1.25" fill="#f08a28"/>
<circle cx="205.82" cy="271.86" r="1.25" fill="#f08a28"/>
<circle cx="202.53" cy="272.18" r="1.25" fill="#c77f3c"/>
<circle cx="205.18" cy="272.87" r="1.25" fill="#f08a28"/>
<circle cx="206.45" cy="273.57" r="1.25" fill="#db8532"/>
<line x1="201.63" y1="259" x2="209.63" y2="259" stroke="#3a2618" stroke-width="1.05"/>
<circle cx="230.00" cy="240.50" r="2.4" fill="#f59a30" fill-opacity="0.35"/>
<circle cx="230.00" cy="250.50" r="2.4" fill="#f59a30" fill-opacity="0.35"/>
<circle cx="226.25" cy="258.50" r="2.4" fill="#f59a30" fill-opacity="0.35"/>
<circle cx="225.43" cy="259.91" r="2.4" fill="#f59a30" fill-opacity="0.35"/>
<circle cx="225.79" cy="261.93" r="2.4" fill="#f59a30" fill-opacity="0.35"/>
<circle cx="226.78" cy="262.21" r="2.4" fill="#f59a30" fill-opacity="0.35"/>
<circle cx="228.60" cy="262.93" r="2.4" fill="#f59a30" fill-opacity="0.35"/>
<circle cx="226.40" cy="265.01" r="2.4" fill="#f59a30" fill-opacity="0.35"/>
<circle cx="226.58" cy="265.50" r="2.4" fill="#f59a30" fill-opacity="0.35"/>
<circle cx="227.01" cy="266.34" r="2.4" fill="#f59a30" fill-opacity="0.35"/>
<circle cx="225.94" cy="266.72" r="2.4" fill="#f59a30" fill-opacity="0.35"/>
<circle cx="229.37" cy="267.78" r="2.4" fill="#f59a30" fill-opacity="0.35"/>
<circle cx="226.21" cy="269.25" r="2.4" fill="#f59a30" fill-opacity="0.35"/>
<circle cx="230.00" cy="240.50" r="1.25" fill="#b27a46"/>
<circle cx="230.00" cy="250.50" r="1.25" fill="#b27a46"/>
<circle cx="226.25" cy="258.50" r="1.25" fill="#c77f3c"/>
<circle cx="225.43" cy="259.91" r="1.25" fill="#f08a28"/>
<circle cx="225.79" cy="261.93" r="1.25" fill="#f08a28"/>
<circle cx="226.78" cy="262.21" r="1.25" fill="#f08a28"/>
<circle cx="228.60" cy="262.93" r="1.25" fill="#f08a28"/>
<circle cx="226.40" cy="265.01" r="1.25" fill="#f08a28"/>
<circle cx="226.58" cy="265.50" r="1.25" fill="#f08a28"/>
<circle cx="227.01" cy="266.34" r="1.25" fill="#f08a28"/>
<circle cx="225.94" cy="266.72" r="1.25" fill="#f08a28"/>
<circle cx="229.37" cy="267.78" r="1.25" fill="#c77f3c"/>
<circle cx="226.21" cy="269.25" r="1.25" fill="#db8532"/>
<line x1="223.32" y1="262.75" x2="231.32" y2="262.75" stroke="#3a2618" stroke-width="1.05"/>
<circle cx="252.50" cy="263.50" r="2.4" fill="#f59a30" fill-opacity="0.35"/>
<circle cx="248.75" cy="271.00" r="2.4" fill="#f59a30" fill-opacity="0.35"/>
<circle cx="252.50" cy="263.50" r="1.25" fill="#b27a46"/>
<circle cx="248.75" cy="271.00" r="1.25" fill="#b27a46"/>
<line x1="245.01" y1="268" x2="253.01" y2="268" stroke="#636378" stroke-width="1.05"/>
<rect x="45" y="191.5" width="215.30" height="86.00" fill="none" stroke="#2a2a2a" stroke-width="1.3"/>
<line x1="39.20" y1="208.60" x2="45.00" y2="208.60" stroke="#2a2a2a" stroke-width="1.3"/>
<text transform="translate(33.20,212.71) scale(1,1.17)" text-anchor="end" font-family='"Liberation Sans", sans-serif' font-size="9.3" fill="#222" stroke="#222" stroke-width="0.3">6.5</text>
<line x1="39.20" y1="234.40" x2="45.00" y2="234.40" stroke="#2a2a2a" stroke-width="1.3"/>
<text transform="translate(33.20,238.51) scale(1,1.17)" text-anchor="end" font-family='"Liberation Sans", sans-serif' font-size="9.3" fill="#222" stroke="#222" stroke-width="0.3">6.0</text>
<line x1="39.20" y1="260.20" x2="45.00" y2="260.20" stroke="#2a2a2a" stroke-width="1.3"/>
<text transform="translate(33.20,264.31) scale(1,1.17)" text-anchor="end" font-family='"Liberation Sans", sans-serif' font-size="9.3" fill="#222" stroke="#222" stroke-width="0.3">5.5</text>
<text transform="translate(252.50,207.50) scale(1,1.0)" text-anchor="end" font-family='"Liberation Sans", sans-serif' font-size="12.2" fill="#1a1a1a" stroke="#1a1a1a" stroke-width="0.3">miR−711</text>
<circle cx="310.00" cy="39.00" r="2.4" fill="#4fd04f" fill-opacity="0.35"/>
<circle cx="309.50" cy="43.25" r="2.4" fill="#4fd04f" fill-opacity="0.35"/>
<circle cx="310.75" cy="54.50" r="2.4" fill="#4fd04f" fill-opacity="0.35"/>
<circle cx="313.25" cy="62.00" r="2.4" fill="#4fd04f" fill-opacity="0.35"/>
<circle cx="309.50" cy="63.25" r="2.4" fill="#4fd04f" fill-opacity="0.35"/>
<circle cx="314.78" cy="65.51" r="2.4" fill="#4fd04f" fill-opacity="0.35"/>
<circle cx="309.55" cy="65.51" r="2.4" fill="#4fd04f" fill-opacity="0.35"/>
<circle cx="309.25" cy="65.83" r="2.4" fill="#4fd04f" fill-opacity="0.35"/>
<circle cx="309.26" cy="66.80" r="2.4" fill="#4fd04f" fill-opacity="0.35"/>
<circle cx="310.28" cy="67.36" r="2.4" fill="#4fd04f" fill-opacity="0.35"/>
<circle cx="314.11" cy="68.62" r="2.4" fill="#4fd04f" fill-opacity="0.35"/>
<circle cx="311.22" cy="69.64" r="2.4" fill="#4fd04f" fill-opacity="0.35"/>
<circle cx="311.90" cy="69.83" r="2.4" fill="#4fd04f" fill-opacity="0.35"/>
<circle cx="310.76" cy="70.50" r="2.4" fill="#4fd04f" fill-opacity="0.35"/>
<circle cx="310.39" cy="70.73" r="2.4" fill="#4fd04f" fill-opacity="0.35"/>
<circle cx="309.47" cy="72.90" r="2.4" fill="#4fd04f" fill-opacity="0.35"/>
<circle cx="312.54" cy="72.89" r="2.4" fill="#4fd04f" fill-opacity="0.35"/>
<circle cx="310.02" cy="74.20" r="2.4" fill="#4fd04f" fill-opacity="0.35"/>
<circle cx="310.22" cy="73.98" r="2.4" fill="#4fd04f" fill-opacity="0.35"/>
<circle cx="311.42" cy="74.91" r="2.4" fill="#4fd04f" fill-opacity="0.35"/>
<circle cx="313.88" cy="76.53" r="2.4" fill="#4fd04f" fill-opacity="0.35"/>
<circle cx="308.83" cy="77.13" r="2.4" fill="#4fd04f" fill-opacity="0.35"/>
<circle cx="313.03" cy="76.51" r="2.4" fill="#4fd04f" fill-opacity="0.35"/>
<circle cx="311.59" cy="78.62" r="2.4" fill="#4fd04f" fill-opacity="0.35"/>
<circle cx="308.70" cy="78.86" r="2.4" fill="#4fd04f" fill-opacity="0.35"/>
<circle cx="314.35" cy="79.27" r="2.4" fill="#4fd04f" fill-opacity="0.35"/>
<circle cx="313.92" cy="80.70" r="2.4" fill="#4fd04f" fill-opacity="0.35"/>
<circle cx="310.22" cy="81.66" r="2.4" fill="#4fd04f" fill-opacity="0.35"/>
<circle cx="309.64" cy="81.01" r="2.4" fill="#4fd04f" fill-opacity="0.35"/>
<circle cx="310.00" cy="39.00" r="1.25" fill="#5a845f"/>
<circle cx="309.50" cy="43.25" r="1.25" fill="#5a845f"/>
<circle cx="310.75" cy="54.50" r="1.25" fill="#5a845f"/>
<circle cx="313.25" cy="62.00" r="1.25" fill="#5a845f"/>
<circle cx="309.50" cy="63.25" r="1.25" fill="#56a157"/>
<circle cx="314.78" cy="65.51" r="1.25" fill="#5a845f"/>
<circle cx="309.55" cy="65.51" r="1.25" fill="#52be50"/>
<circle cx="309.25" cy="65.83" r="1.25" fill="#52be50"/>
<circle cx="309.26" cy="66.80" r="1.25" fill="#54af54"/>
<circle cx="310.28" cy="67.36" r="1.25" fill="#52be50"/>
<circle cx="314.11" cy="68.62" r="1.25" fill="#58925b"/>
<circle cx="311.22" cy="69.64" r="1.25" fill="#52be50"/>
<circle cx="311.90" cy="69.83" r="1.25" fill="#52be50"/>
<circle cx="310.76" cy="70.50" r="1.25" fill="#54af54"/>
<circle cx="310.39" cy="70.73" r="1.25" fill="#52be50"/>
<circle cx="309.47" cy="72.90" r="1.25" fill="#54af54"/>
<circle cx="312.54" cy="72.89" r="1.25" fill="#56a157"/>
<circle cx="310.02" cy="74.20" r="1.25" fill="#54af54"/>
<circle cx="310.22" cy="73.98" r="1.25" fill="#52be50"/>
<circle cx="311.42" cy="74.91" r="1.25" fill="#52be50"/>
<circle cx="313.88" cy="76.53" r="1.25" fill="#58925b"/>
<circle cx="308.83" cy="77.13" r="1.25" fill="#58925b"/>
<circle cx="313.03" cy="76.51" r="1.25" fill="#54af54"/>
<circle cx="311.59" cy="78.62" r="1.25" fill="#58925b"/>
<circle cx="308.70" cy="78.86" r="1.25" fill="#56a157"/>
<circle cx="314.35" cy="79.27" r="1.25" fill="#58925b"/>
<circle cx="313.92" cy="80.70" r="1.25" fill="#58925b"/>
<circle cx="310.22" cy="81.66" r="1.25" fill="#58925b"/>
<circle cx="309.64" cy="81.01" r="1.25" fill="#56a157"/>
<line x1="307.20" y1="72.5" x2="315.20" y2="72.5" stroke="#2a362a" stroke-width="1.05"/>
<circle cx="332.50" cy="65.75" r="2.4" fill="#4fd04f" fill-opacity="0.35"/>
<circle cx="330.75" cy="69.50" r="2.4" fill="#4fd04f" fill-opacity="0.35"/>
<circle cx="333.25" cy="73.25" r="2.4" fill="#4fd04f" fill-opacity="0.35"/>
<circle cx="335.75" cy="75.75" r="2.4" fill="#4fd04f" fill-opacity="0.35"/>
<circle cx="337.00" cy="77.00" r="2.4" fill="#4fd04f" fill-opacity="0.35"/>
<circle cx="331.50" cy="81.50" r="2.4" fill="#4fd04f" fill-opacity="0.35"/>
<circle cx="332.50" cy="65.75" r="1.25" fill="#5a845f"/>
<circle cx="330.75" cy="69.50" r="1.25" fill="#5a845f"/>
<circle cx="333.25" cy="73.25" r="1.25" fill="#5a845f"/>
<circle cx="335.75" cy="75.75" r="1.25" fill="#58925b"/>
<circle cx="337.00" cy="77.00" r="1.25" fill="#58925b"/>
<circle cx="331.50" cy="81.50" r="1.25" fill="#5a845f"/>
<line x1="328.94" y1="74.5" x2="336.94" y2="74.5" stroke="#2a362a" stroke-width="1.05"/>
<circle cx="353.25" cy="70.00" r="2.4" fill="#4fd04f" fill-opacity="0.35"/>
<circle cx="355.75" cy="72.00" r="2.4" fill="#4fd04f" fill-opacity="0.35"/>
<circle cx="357.00" cy="77.00" r="2.4" fill="#4fd04f" fill-opacity="0.35"/>
<circle cx="352.00" cy="75.00" r="2.4" fill="#4fd04f" fill-opacity="0.35"/>
<circle cx="354.50" cy="80.75" r="2.4" fill="#4fd04f" fill-opacity="0.35"/>
<circle cx="356.50" cy="74.50" r="2.4" fill="#4fd04f" fill-opacity="0.35"/>
<circle cx="353.25" cy="70.00" r="1.25" fill="#5a845f"/>
<circle cx="355.75" cy="72.00" r="1.25" fill="#5a845f"/>
<circle cx="357.00" cy="77.00" r="1.25" fill="#58925b"/>
<circle cx="352.00" cy="75.00" r="1.25" fill="#5a845f"/>
<circle cx="354.50" cy="80.75" r="1.25" fill="#5a845f"/>
<circle cx="356.50" cy="74.50" r="1.25" fill="#58925b"/>
<line x1="350.68" y1="75.75" x2="358.68" y2="75.75" stroke="#2a362a" stroke-width="1.05"/>
<circle cx="376.50" cy="70.75" r="2.4" fill="#4fd04f" fill-opacity="0.35"/>
<circle cx="374.50" cy="74.50" r="2.4" fill="#4fd04f" fill-opacity="0.35"/>
<circle cx="378.25" cy="77.00" r="2.4" fill="#4fd04f" fill-opacity="0.35"/>
<circle cx="375.00" cy="80.00" r="2.4" fill="#4fd04f" fill-opacity="0.35"/>
<circle cx="377.50" cy="75.00" r="2.4" fill="#4fd04f" fill-opacity="0.35"/>
<circle cx="376.50" cy="70.75" r="1.25" fill="#5a845f"/>
<circle cx="374.50" cy="74.50" r="1.25" fill="#5a845f"/>
<circle cx="378.25" cy="77.00" r="1.25" fill="#58925b"/>
<circle cx="375.00" cy="80.00" r="1.25" fill="#5a845f"/>
<circle cx="377.50" cy="75.00" r="1.25" fill="#58925b"/>
<line x1="372.42" y1="76.5" x2="380.42" y2="76.5" stroke="#2a362a" stroke-width="1.05"/>
<circle cx="395.50" cy="73.80" r="2.4" fill="#4fd04f" fill-opacity="0.35"/>
<circle cx="400.00" cy="73.50" r="2.4" fill="#4fd04f" fill-opacity="0.35"/>
<circle cx="399.90" cy="75.45" r="2.4" fill="#4fd04f" fill-opacity="0.35"/>
<circle cx="400.15" cy="76.96" r="2.4" fill="#4fd04f" fill-opacity="0.35"/>
<circle cx="400.42" cy="77.32" r="2.4" fill="#4fd04f" fill-opacity="0.35"/>
<circle cx="399.07" cy="77.85" r="2.4" fill="#4fd04f" fill-opacity="0.35"/>
<circle cx="400.53" cy="78.01" r="2.4" fill="#4fd04f" fill-opacity="0.35"/>
<circle cx="401.40" cy="79.16" r="2.4" fill="#4fd04f" fill-opacity="0.35"/>
<circle cx="397.51" cy="80.65" r="2.4" fill="#4fd04f" fill-opacity="0.35"/>
<circle cx="397.19" cy="80.65" r="2.4" fill="#4fd04f" fill-opacity="0.35"/>
<circle cx="400.00" cy="82.30" r="2.4" fill="#4fd04f" fill-opacity="0.35"/>
<circle cx="396.04" cy="82.30" r="2.4" fill="#4fd04f" fill-opacity="0.35"/>
<circle cx="399.27" cy="83.79" r="2.4" fill="#4fd04f" fill-opacity="0.35"/>
<circle cx="397.01" cy="84.40" r="2.4" fill="#4fd04f" fill-opacity="0.35"/>
<circle cx="395.50" cy="73.80" r="1.25" fill="#5a845f"/>
<circle cx="400.00" cy="73.50" r="1.25" fill="#58925b"/>
<circle cx="399.90" cy="75.45" r="1.25" fill="#52be50"/>
<circle cx="400.15" cy="76.96" r="1.25" fill="#50cc4c"/>
<circle cx="400.42" cy="77.32" r="1.25" fill="#50cc4c"/>
<circle cx="399.07" cy="77.85" r="1.25" fill="#52be50"/>
<circle cx="400.53" cy="78.01" r="1.25" fill="#52be50"/>
<circle cx="401.40" cy="79.16" r="1.25" fill="#54af54"/>
<circle cx="397.51" cy="80.65" r="1.25" fill="#56a157"/>
<circle cx="397.19" cy="80.65" r="1.25" fill="#56a157"/>
<circle cx="400.00" cy="82.30" r="1.25" fill="#58925b"/>
<circle cx="396.04" cy="82.30" r="1.25" fill="#54af54"/>
<circle cx="399.27" cy="83.79" r="1.25" fill="#56a157"/>
<circle cx="397.01" cy="84.40" r="1.25" fill="#56a157"/>
<line x1="394.16" y1="79.9" x2="402.16" y2="79.9" stroke="#2a362a" stroke-width="1.05"/>
<circle cx="418.00" cy="34.00" r="2.4" fill="#f59a30" fill-opacity="0.35"/>
<circle cx="420.50" cy="37.50" r="2.4" fill="#f59a30" fill-opacity="0.35"/>
<circle cx="417.55" cy="39.75" r="2.4" fill="#f59a30" fill-opacity="0.35"/>
<circle cx="419.71" cy="40.43" r="2.4" fill="#f59a30" fill-opacity="0.35"/>
<circle cx="420.59" cy="42.65" r="2.4" fill="#f59a30" fill-opacity="0.35"/>
<circle cx="419.78" cy="43.70" r="2.4" fill="#f59a30" fill-opacity="0.35"/>
<circle cx="418.69" cy="43.83" r="2.4" fill="#f59a30" fill-opacity="0.35"/>
<circle cx="420.88" cy="46.15" r="2.4" fill="#f59a30" fill-opacity="0.35"/>
<circle cx="417.60" cy="46.28" r="2.4" fill="#f59a30" fill-opacity="0.35"/>
<circle cx="420.74" cy="47.75" r="2.4" fill="#f59a30" fill-opacity="0.35"/>
<circle cx="418.73" cy="48.79" r="2.4" fill="#f59a30" fill-opacity="0.35"/>
<circle cx="421.94" cy="50.35" r="2.4" fill="#f59a30" fill-opacity="0.35"/>
<circle cx="417.66" cy="50.81" r="2.4" fill="#f59a30" fill-opacity="0.35"/>
<circle cx="419.52" cy="52.16" r="2.4" fill="#f59a30" fill-opacity="0.35"/>
<circle cx="418.60" cy="57.80" r="2.4" fill="#f59a30" fill-opacity="0.35"/>
<circle cx="418.00" cy="34.00" r="1.25" fill="#b27a46"/>
<circle cx="420.50" cy="37.50" r="1.25" fill="#c77f3c"/>
<circle cx="417.55" cy="39.75" r="1.25" fill="#c77f3c"/>
<circle cx="419.71" cy="40.43" r="1.25" fill="#f08a28"/>
<circle cx="420.59" cy="42.65" r="1.25" fill="#f08a28"/>
<circle cx="419.78" cy="43.70" r="1.25" fill="#f08a28"/>
<circle cx="418.69" cy="43.83" r="1.25" fill="#f08a28"/>
<circle cx="420.88" cy="46.15" r="1.25" fill="#db8532"/>
<circle cx="417.60" cy="46.28" r="1.25" fill="#db8532"/>
<circle cx="420.74" cy="47.75" r="1.25" fill="#f08a28"/>
<circle cx="418.73" cy="48.79" r="1.25" fill="#f08a28"/>
<circle cx="421.94" cy="50.35" r="1.25" fill="#db8532"/>
<circle cx="417.66" cy="50.81" r="1.25" fill="#db8532"/>
<circle cx="419.52" cy="52.16" r="1.25" fill="#db8532"/>
<circle cx="418.60" cy="57.80" r="1.25" fill="#b27a46"/>
<line x1="415.90" y1="45.1" x2="423.90" y2="45.1" stroke="#3a2618" stroke-width="1.05"/>
<circle cx="440.25" cy="24.00" r="2.4" fill="#f59a30" fill-opacity="0.35"/>
<circle cx="441.50" cy="45.00" r="2.4" fill="#f59a30" fill-opacity="0.35"/>
<circle cx="439.00" cy="50.75" r="2.4" fill="#f59a30" fill-opacity="0.35"/>
<circle cx="443.50" cy="52.00" r="2.4" fill="#f59a30" fill-opacity="0.35"/>
<circle cx="444.50" cy="55.75" r="2.4" fill="#f59a30" fill-opacity="0.35"/>
<circle cx="439.00" cy="59.50" r="2.4" fill="#f59a30" fill-opacity="0.35"/>
<circle cx="442.00" cy="61.50" r="2.4" fill="#f59a30" fill-opacity="0.35"/>
<circle cx="442.75" cy="68.25" r="2.4" fill="#f59a30" fill-opacity="0.35"/>
<circle cx="440.25" cy="24.00" r="1.25" fill="#b27a46"/>
<circle cx="441.50" cy="45.00" r="1.25" fill="#b27a46"/>
<circle cx="439.00" cy="50.75" r="1.25" fill="#b27a46"/>
<circle cx="443.50" cy="52.00" r="1.25" fill="#b27a46"/>
<circle cx="444.50" cy="55.75" r="1.25" fill="#b27a46"/>
<circle cx="439.00" cy="59.50" r="1.25" fill="#b27a46"/>
<circle cx="442.00" cy="61.50" r="1.25" fill="#b27a46"/>
<circle cx="442.75" cy="68.25" r="1.25" fill="#b27a46"/>
<line x1="437.64" y1="53.25" x2="445.64" y2="53.25" stroke="#3a2618" stroke-width="1.05"/>
<circle cx="462.00" cy="4.00" r="2.4" fill="#f59a30" fill-opacity="0.35"/>
<circle cx="461.50" cy="7.00" r="2.4" fill="#f59a30" fill-opacity="0.35"/>
<circle cx="461.50" cy="22.00" r="2.4" fill="#f59a30" fill-opacity="0.35"/>
<circle cx="462.75" cy="28.25" r="2.4" fill="#f59a30" fill-opacity="0.35"/>
<circle cx="462.31" cy="30.24" r="2.4" fill="#f59a30" fill-opacity="0.35"/>
<circle cx="465.34" cy="31.33" r="2.4" fill="#f59a30" fill-opacity="0.35"/>
<circle cx="462.35" cy="31.76" r="2.4" fill="#f59a30" fill-opacity="0.35"/>
<circle cx="462.95" cy="33.40" r="2.4" fill="#f59a30" fill-opacity="0.35"/>
<circle cx="462.49" cy="34.06" r="2.4" fill="#f59a30" fill-opacity="0.35"/>
<circle cx="465.46" cy="34.00" r="2.4" fill="#f59a30" fill-opacity="0.35"/>
<circle cx="466.53" cy="35.02" r="2.4" fill="#f59a30" fill-opacity="0.35"/>
<circle cx="462.25" cy="36.24" r="2.4" fill="#f59a30" fill-opacity="0.35"/>
<circle cx="463.54" cy="36.71" r="2.4" fill="#f59a30" fill-opacity="0.35"/>
<circle cx="466.51" cy="38.31" r="2.4" fill="#f59a30" fill-opacity="0.35"/>
<circle cx="463.40" cy="38.38" r="2.4" fill="#f59a30" fill-opacity="0.35"/>
<circle cx="466.66" cy="39.39" r="2.4" fill="#f59a30" fill-opacity="0.35"/>
<circle cx="461.49" cy="40.18" r="2.4" fill="#f59a30" fill-opacity="0.35"/>
<circle cx="463.40" cy="40.95" r="2.4" fill="#f59a30" fill-opacity="0.35"/>
<circle cx="466.15" cy="43.19" r="2.4" fill="#f59a30" fill-opacity="0.35"/>
<circle cx="466.79" cy="43.82" r="2.4" fill="#f59a30" fill-opacity="0.35"/>
<circle cx="463.04" cy="45.04" r="2.4" fill="#f59a30" fill-opacity="0.35"/>
<circle cx="466.44" cy="44.75" r="2.4" fill="#f59a30" fill-opacity="0.35"/>
<circle cx="461.38" cy="46.54" r="2.4" fill="#f59a30" fill-opacity="0.35"/>
<circle cx="463.32" cy="47.31" r="2.4" fill="#f59a30" fill-opacity="0.35"/>
<circle cx="463.06" cy="47.75" r="2.4" fill="#f59a30" fill-opacity="0.35"/>
<circle cx="461.22" cy="48.32" r="2.4" fill="#f59a30" fill-opacity="0.35"/>
<circle cx="463.17" cy="49.40" r="2.4" fill="#f59a30" fill-opacity="0.35"/>
<circle cx="461.89" cy="51.38" r="2.4" fill="#f59a30" fill-opacity="0.35"/>
<circle cx="462.36" cy="52.29" r="2.4" fill="#f59a30" fill-opacity="0.35"/>
<circle cx="462.00" cy="54.50" r="2.4" fill="#f59a30" fill-opacity="0.35"/>
<circle cx="465.50" cy="57.00" r="2.4" fill="#f59a30" fill-opacity="0.35"/>
<circle cx="461.50" cy="60.00" r="2.4" fill="#f59a30" fill-opacity="0.35"/>
<circle cx="464.00" cy="63.00" r="2.4" fill="#f59a30" fill-opacity="0.35"/>
<circle cx="462.50" cy="66.00" r="2.4" fill="#f59a30" fill-opacity="0.35"/>
<circle cx="466.00" cy="68.50" r="2.4" fill="#f59a30" fill-opacity="0.35"/>
<circle cx="461.00" cy="71.00" r="2.4" fill="#f59a30" fill-opacity="0.35"/>
<circle cx="463.50" cy="74.00" r="2.4" fill="#f59a30" fill-opacity="0.35"/>
<circle cx="462.00" cy="4.00" r="1.25" fill="#c77f3c"/>
<circle cx="461.50" cy="7.00" r="1.25" fill="#c77f3c"/>
<circle cx="461.50" cy="22.00" r="1.25" fill="#b27a46"/>
<circle cx="462.75" cy="28.25" r="1.25" fill="#c77f3c"/>
<circle cx="462.31" cy="30.24" r="1.25" fill="#db8532"/>
<circle cx="465.34" cy="31.33" r="1.25" fill="#f08a28"/>
<circle cx="462.35" cy="31.76" r="1.25" fill="#f08a28"/>
<circle cx="462.95" cy="33.40" r="1.25" fill="#f08a28"/>
<circle cx="462.49" cy="34.06" r="1.25" fill="#f08a28"/>
<circle cx="465.46" cy="34.00" r="1.25" fill="#f08a28"/>
<circle cx="466.53" cy="35.02" r="1.25" fill="#c77f3c"/>
<circle cx="462.25" cy="36.24" r="1.25" fill="#f08a28"/>
<circle cx="463.54" cy="36.71" r="1.25" fill="#f08a28"/>
<circle cx="466.51" cy="38.31" r="1.25" fill="#db8532"/>
<circle cx="463.40" cy="38.38" r="1.25" fill="#f08a28"/>
<circle cx="466.66" cy="39.39" r="1.25" fill="#c77f3c"/>
<circle cx="461.49" cy="40.18" r="1.25" fill="#db8532"/>
<circle cx="463.40" cy="40.95" r="1.25" fill="#db8532"/>
<circle cx="466.15" cy="43.19" r="1.25" fill="#db8532"/>
<circle cx="466.79" cy="43.82" r="1.25" fill="#db8532"/>
<circle cx="463.04" cy="45.04" r="1.25" fill="#f08a28"/>
<circle cx="466.44" cy="44.75" r="1.25" fill="#db8532"/>
<circle cx="461.38" cy="46.54" r="1.25" fill="#f08a28"/>
<circle cx="463.32" cy="47.31" r="1.25" fill="#f08a28"/>
<circle cx="463.06" cy="47.75" r="1.25" fill="#f08a28"/>
<circle cx="461.22" cy="48.32" r="1.25" fill="#f08a28"/>
<circle cx="463.17" cy="49.40" r="1.25" fill="#f08a28"/>
<circle cx="461.89" cy="51.38" r="1.25" fill="#f08a28"/>
<circle cx="462.36" cy="52.29" r="1.25" fill="#f08a28"/>
<circle cx="462.00" cy="54.50" r="1.25" fill="#db8532"/>
<circle cx="465.50" cy="57.00" r="1.25" fill="#b27a46"/>
<circle cx="461.50" cy="60.00" r="1.25" fill="#b27a46"/>
<circle cx="464.00" cy="63.00" r="1.25" fill="#b27a46"/>
<circle cx="462.50" cy="66.00" r="1.25" fill="#b27a46"/>
<circle cx="466.00" cy="68.50" r="1.25" fill="#b27a46"/>
<circle cx="461.00" cy="71.00" r="1.25" fill="#b27a46"/>
<circle cx="463.50" cy="74.00" r="1.25" fill="#b27a46"/>
<line x1="459.38" y1="46.5" x2="467.38" y2="46.5" stroke="#3a2618" stroke-width="1.05"/>
<circle cx="484.00" cy="30.75" r="2.4" fill="#f59a30" fill-opacity="0.35"/>
<circle cx="488.50" cy="35.75" r="2.4" fill="#f59a30" fill-opacity="0.35"/>
<circle cx="487.75" cy="47.00" r="2.4" fill="#f59a30" fill-opacity="0.35"/>
<circle cx="486.98" cy="48.25" r="2.4" fill="#f59a30" fill-opacity="0.35"/>
<circle cx="485.19" cy="49.95" r="2.4" fill="#f59a30" fill-opacity="0.35"/>
<circle cx="485.38" cy="49.67" r="2.4" fill="#f59a30" fill-opacity="0.35"/>
<circle cx="487.43" cy="51.15" r="2.4" fill="#f59a30" fill-opacity="0.35"/>
<circle cx="484.88" cy="51.82" r="2.4" fill="#f59a30" fill-opacity="0.35"/>
<circle cx="483.34" cy="53.91" r="2.4" fill="#f59a30" fill-opacity="0.35"/>
<circle cx="486.93" cy="54.09" r="2.4" fill="#f59a30" fill-opacity="0.35"/>
<circle cx="483.39" cy="55.61" r="2.4" fill="#f59a30" fill-opacity="0.35"/>
<circle cx="483.49" cy="55.40" r="2.4" fill="#f59a30" fill-opacity="0.35"/>
<circle cx="484.38" cy="57.78" r="2.4" fill="#f59a30" fill-opacity="0.35"/>
<circle cx="487.33" cy="58.46" r="2.4" fill="#f59a30" fill-opacity="0.35"/>
<circle cx="484.45" cy="58.76" r="2.4" fill="#f59a30" fill-opacity="0.35"/>
<circle cx="485.25" cy="71.50" r="2.4" fill="#f59a30" fill-opacity="0.35"/>
<circle cx="484.00" cy="30.75" r="1.25" fill="#b27a46"/>
<circle cx="488.50" cy="35.75" r="1.25" fill="#b27a46"/>
<circle cx="487.75" cy="47.00" r="1.25" fill="#c77f3c"/>
<circle cx="486.98" cy="48.25" r="1.25" fill="#f08a28"/>
<circle cx="485.19" cy="49.95" r="1.25" fill="#f08a28"/>
<circle cx="485.38" cy="49.67" r="1.25" fill="#f08a28"/>
<circle cx="487.43" cy="51.15" r="1.25" fill="#f08a28"/>
<circle cx="484.88" cy="51.82" r="1.25" fill="#f08a28"/>
<circle cx="483.34" cy="53.91" r="1.25" fill="#f08a28"/>
<circle cx="486.93" cy="54.09" r="1.25" fill="#db8532"/>
<circle cx="483.39" cy="55.61" r="1.25" fill="#f08a28"/>
<circle cx="483.49" cy="55.40" r="1.25" fill="#f08a28"/>
<circle cx="484.38" cy="57.78" r="1.25" fill="#f08a28"/>
<circle cx="487.33" cy="58.46" r="1.25" fill="#db8532"/>
<circle cx="484.45" cy="58.76" r="1.25" fill="#db8532"/>
<circle cx="485.25" cy="71.50" r="1.25" fill="#b27a46"/>
<line x1="481.12" y1="52.5" x2="489.12" y2="52.5" stroke="#3a2618" stroke-width="1.05"/>
<circle cx="505.00" cy="38.25" r="2.4" fill="#f59a30" fill-opacity="0.35"/>
<circle cx="508.50" cy="38.25" r="2.4" fill="#f59a30" fill-opacity="0.35"/>
<circle cx="510.00" cy="38.00" r="2.4" fill="#f59a30" fill-opacity="0.35"/>
<circle cx="505.00" cy="38.25" r="1.25" fill="#b27a46"/>
<circle cx="508.50" cy="38.25" r="1.25" fill="#c77f3c"/>
<circle cx="510.00" cy="38.00" r="1.25" fill="#c77f3c"/>
<line x1="502.86" y1="38.25" x2="510.86" y2="38.25" stroke="#3a2618" stroke-width="1.05"/>
<rect x="302.7" y="1.8" width="215.60" height="86.40" fill="none" stroke="#2a2a2a" stroke-width="1.3"/>
<line x1="296.90" y1="4.00" x2="302.70" y2="4.00" stroke="#2a2a2a" stroke-width="1.3"/>
<text transform="translate(290.90,8.11) scale(1,1.17)" text-anchor="end" font-family='"Liberation Sans", sans-serif' font-size="9.3" fill="#222" stroke="#222" stroke-width="0.3">8.0</text>
<line x1="296.90" y1="22.32" x2="302.70" y2="22.32" stroke="#2a2a2a" stroke-width="1.3"/>
<text transform="translate(290.90,26.43) scale(1,1.17)" text-anchor="end" font-family='"Liberation Sans", sans-serif' font-size="9.3" fill="#222" stroke="#222" stroke-width="0.3">7.5</text>
<line x1="296.90" y1="40.64" x2="302.70" y2="40.64" stroke="#2a2a2a" stroke-width="1.3"/>
<text transform="translate(290.90,44.75) scale(1,1.17)" text-anchor="end" font-family='"Liberation Sans", sans-serif' font-size="9.3" fill="#222" stroke="#222" stroke-width="0.3">7.0</text>
<line x1="296.90" y1="58.96" x2="302.70" y2="58.96" stroke="#2a2a2a" stroke-width="1.3"/>
<text transform="translate(290.90,63.07) scale(1,1.17)" text-anchor="end" font-family='"Liberation Sans", sans-serif' font-size="9.3" fill="#222" stroke="#222" stroke-width="0.3">6.5</text>
<line x1="296.90" y1="77.28" x2="302.70" y2="77.28" stroke="#2a2a2a" stroke-width="1.3"/>
<text transform="translate(290.90,81.39) scale(1,1.17)" text-anchor="end" font-family='"Liberation Sans", sans-serif' font-size="9.3" fill="#222" stroke="#222" stroke-width="0.3">6.0</text>
<text transform="translate(513.20,17.80) scale(1,1.0)" text-anchor="end" font-family='"Liberation Sans", sans-serif' font-size="12.2" fill="#1a1a1a" stroke="#1a1a1a" stroke-width="0.3">miR−203</text>
<circle cx="314.20" cy="149.00" r="2.4" fill="#4fd04f" fill-opacity="0.35"/>
<circle cx="314.50" cy="154.70" r="2.4" fill="#4fd04f" fill-opacity="0.35"/>
<circle cx="311.70" cy="156.20" r="2.4" fill="#4fd04f" fill-opacity="0.35"/>
<circle cx="312.32" cy="158.71" r="2.4" fill="#4fd04f" fill-opacity="0.35"/>
<circle cx="312.88" cy="158.54" r="2.4" fill="#4fd04f" fill-opacity="0.35"/>
<circle cx="310.37" cy="159.58" r="2.4" fill="#4fd04f" fill-opacity="0.35"/>
<circle cx="313.11" cy="160.03" r="2.4" fill="#4fd04f" fill-opacity="0.35"/>
<circle cx="312.41" cy="162.44" r="2.4" fill="#4fd04f" fill-opacity="0.35"/>
<circle cx="308.94" cy="163.43" r="2.4" fill="#4fd04f" fill-opacity="0.35"/>
<circle cx="311.51" cy="163.25" r="2.4" fill="#4fd04f" fill-opacity="0.35"/>
<circle cx="314.24" cy="165.36" r="2.4" fill="#4fd04f" fill-opacity="0.35"/>
<circle cx="310.23" cy="165.39" r="2.4" fill="#4fd04f" fill-opacity="0.35"/>
<circle cx="311.61" cy="166.41" r="2.4" fill="#4fd04f" fill-opacity="0.35"/>
<circle cx="309.84" cy="168.16" r="2.4" fill="#4fd04f" fill-opacity="0.35"/>
<circle cx="313.01" cy="168.91" r="2.4" fill="#4fd04f" fill-opacity="0.35"/>
<circle cx="313.21" cy="169.89" r="2.4" fill="#4fd04f" fill-opacity="0.35"/>
<circle cx="310.67" cy="170.50" r="2.4" fill="#4fd04f" fill-opacity="0.35"/>
<circle cx="310.86" cy="170.99" r="2.4" fill="#4fd04f" fill-opacity="0.35"/>
<circle cx="309.25" cy="172.68" r="2.4" fill="#4fd04f" fill-opacity="0.35"/>
<circle cx="313.09" cy="172.69" r="2.4" fill="#4fd04f" fill-opacity="0.35"/>
<circle cx="309.17" cy="173.72" r="2.4" fill="#4fd04f" fill-opacity="0.35"/>
<circle cx="311.95" cy="174.33" r="2.4" fill="#4fd04f" fill-opacity="0.35"/>
<circle cx="314.39" cy="175.75" r="2.4" fill="#4fd04f" fill-opacity="0.35"/>
<circle cx="310.10" cy="178.90" r="2.4" fill="#4fd04f" fill-opacity="0.35"/>
<circle cx="314.20" cy="149.00" r="1.25" fill="#5a845f"/>
<circle cx="314.50" cy="154.70" r="1.25" fill="#5a845f"/>
<circle cx="311.70" cy="156.20" r="1.25" fill="#58925b"/>
<circle cx="312.32" cy="158.71" r="1.25" fill="#52be50"/>
<circle cx="312.88" cy="158.54" r="1.25" fill="#56a157"/>
<circle cx="310.37" cy="159.58" r="1.25" fill="#58925b"/>
<circle cx="313.11" cy="160.03" r="1.25" fill="#54af54"/>
<circle cx="312.41" cy="162.44" r="1.25" fill="#56a157"/>
<circle cx="308.94" cy="163.43" r="1.25" fill="#56a157"/>
<circle cx="311.51" cy="163.25" r="1.25" fill="#54af54"/>
<circle cx="314.24" cy="165.36" r="1.25" fill="#5a845f"/>
<circle cx="310.23" cy="165.39" r="1.25" fill="#54af54"/>
<circle cx="311.61" cy="166.41" r="1.25" fill="#56a157"/>
<circle cx="309.84" cy="168.16" r="1.25" fill="#56a157"/>
<circle cx="313.01" cy="168.91" r="1.25" fill="#58925b"/>
<circle cx="313.21" cy="169.89" r="1.25" fill="#56a157"/>
<circle cx="310.67" cy="170.50" r="1.25" fill="#56a157"/>
<circle cx="310.86" cy="170.99" r="1.25" fill="#54af54"/>
<circle cx="309.25" cy="172.68" r="1.25" fill="#56a157"/>
<circle cx="313.09" cy="172.69" r="1.25" fill="#58925b"/>
<circle cx="309.17" cy="173.72" r="1.25" fill="#58925b"/>
<circle cx="311.95" cy="174.33" r="1.25" fill="#58925b"/>
<circle cx="314.39" cy="175.75" r="1.25" fill="#5a845f"/>
<circle cx="310.10" cy="178.90" r="1.25" fill="#5a845f"/>
<line x1="307.20" y1="166.4" x2="315.20" y2="166.4" stroke="#2a362a" stroke-width="1.05"/>
<circle cx="332.50" cy="147.70" r="2.4" fill="#4fd04f" fill-opacity="0.35"/>
<circle cx="330.90" cy="153.10" r="2.4" fill="#4fd04f" fill-opacity="0.35"/>
<circle cx="334.70" cy="162.40" r="2.4" fill="#4fd04f" fill-opacity="0.35"/>
<circle cx="336.90" cy="166.80" r="2.4" fill="#4fd04f" fill-opacity="0.35"/>
<circle cx="331.90" cy="168.00" r="2.4" fill="#4fd04f" fill-opacity="0.35"/>
<circle cx="331.90" cy="173.00" r="2.4" fill="#4fd04f" fill-opacity="0.35"/>
<circle cx="332.50" cy="147.70" r="1.25" fill="#5a845f"/>
<circle cx="330.90" cy="153.10" r="1.25" fill="#5a845f"/>
<circle cx="334.70" cy="162.40" r="1.25" fill="#5a845f"/>
<circle cx="336.90" cy="166.80" r="1.25" fill="#5a845f"/>
<circle cx="331.90" cy="168.00" r="1.25" fill="#5a845f"/>
<circle cx="331.90" cy="173.00" r="1.25" fill="#5a845f"/>
<line x1="328.94" y1="162.8" x2="336.94" y2="162.8" stroke="#3a3c3a" stroke-width="1.05"/>
<circle cx="357.00" cy="161.50" r="2.4" fill="#4fd04f" fill-opacity="0.35"/>
<circle cx="354.50" cy="164.50" r="2.4" fill="#4fd04f" fill-opacity="0.35"/>
<circle cx="356.50" cy="170.00" r="2.4" fill="#4fd04f" fill-opacity="0.35"/>
<circle cx="354.00" cy="173.25" r="2.4" fill="#4fd04f" fill-opacity="0.35"/>
<circle cx="353.00" cy="167.00" r="2.4" fill="#4fd04f" fill-opacity="0.35"/>
<circle cx="357.00" cy="161.50" r="1.25" fill="#5a845f"/>
<circle cx="354.50" cy="164.50" r="1.25" fill="#5a845f"/>
<circle cx="356.50" cy="170.00" r="1.25" fill="#5a845f"/>
<circle cx="354.00" cy="173.25" r="1.25" fill="#5a845f"/>
<circle cx="353.00" cy="167.00" r="1.25" fill="#5a845f"/>
<line x1="350.68" y1="168.25" x2="358.68" y2="168.25" stroke="#3a3c3a" stroke-width="1.05"/>
<circle cx="376.50" cy="162.50" r="2.4" fill="#4fd04f" fill-opacity="0.35"/>
<circle cx="374.50" cy="166.50" r="2.4" fill="#4fd04f" fill-opacity="0.35"/>
<circle cx="377.00" cy="171.00" r="2.4" fill="#4fd04f" fill-opacity="0.35"/>
<circle cx="374.00" cy="175.00" r="2.4" fill="#4fd04f" fill-opacity="0.35"/>
<circle cx="377.00" cy="174.50" r="2.4" fill="#4fd04f" fill-opacity="0.35"/>
<circle cx="376.50" cy="162.50" r="1.25" fill="#5a845f"/>
<circle cx="374.50" cy="166.50" r="1.25" fill="#5a845f"/>
<circle cx="377.00" cy="171.00" r="1.25" fill="#5a845f"/>
<circle cx="374.00" cy="175.00" r="1.25" fill="#5a845f"/>
<circle cx="377.00" cy="174.50" r="1.25" fill="#5a845f"/>
<line x1="372.42" y1="169.5" x2="380.42" y2="169.5" stroke="#3a3c3a" stroke-width="1.05"/>
<circle cx="398.50" cy="161.90" r="2.4" fill="#4fd04f" fill-opacity="0.35"/>
<circle cx="401.24" cy="168.60" r="2.4" fill="#4fd04f" fill-opacity="0.35"/>
<circle cx="396.45" cy="168.60" r="2.4" fill="#4fd04f" fill-opacity="0.35"/>
<circle cx="398.64" cy="169.31" r="2.4" fill="#4fd04f" fill-opacity="0.35"/>
<circle cx="398.37" cy="171.27" r="2.4" fill="#4fd04f" fill-opacity="0.35"/>
<circle cx="398.21" cy="171.49" r="2.4" fill="#4fd04f" fill-opacity="0.35"/>
<circle cx="399.57" cy="173.09" r="2.4" fill="#4fd04f" fill-opacity="0.35"/>
<circle cx="400.49" cy="174.28" r="2.4" fill="#4fd04f" fill-opacity="0.35"/>
<circle cx="396.64" cy="175.13" r="2.4" fill="#4fd04f" fill-opacity="0.35"/>
<circle cx="397.56" cy="176.39" r="2.4" fill="#4fd04f" fill-opacity="0.35"/>
<circle cx="397.98" cy="176.93" r="2.4" fill="#4fd04f" fill-opacity="0.35"/>
<circle cx="397.06" cy="178.19" r="2.4" fill="#4fd04f" fill-opacity="0.35"/>
<circle cx="398.50" cy="161.90" r="1.25" fill="#5a845f"/>
<circle cx="401.24" cy="168.60" r="1.25" fill="#5a845f"/>
<circle cx="396.45" cy="168.60" r="1.25" fill="#58925b"/>
<circle cx="398.64" cy="169.31" r="1.25" fill="#54af54"/>
<circle cx="398.37" cy="171.27" r="1.25" fill="#54af54"/>
<circle cx="398.21" cy="171.49" r="1.25" fill="#54af54"/>
<circle cx="399.57" cy="173.09" r="1.25" fill="#54af54"/>
<circle cx="400.49" cy="174.28" r="1.25" fill="#58925b"/>
<circle cx="396.64" cy="175.13" r="1.25" fill="#56a157"/>
<circle cx="397.56" cy="176.39" r="1.25" fill="#54af54"/>
<circle cx="397.98" cy="176.93" r="1.25" fill="#54af54"/>
<circle cx="397.06" cy="178.19" r="1.25" fill="#56a157"/>
<line x1="394.16" y1="175.6" x2="402.16" y2="175.6" stroke="#2a362a" stroke-width="1.05"/>
<circle cx="420.25" cy="119.50" r="2.4" fill="#f59a30" fill-opacity="0.35"/>
<circle cx="419.00" cy="129.50" r="2.4" fill="#f59a30" fill-opacity="0.35"/>
<circle cx="421.00" cy="132.00" r="2.4" fill="#f59a30" fill-opacity="0.35"/>
<circle cx="419.50" cy="136.50" r="2.4" fill="#f59a30" fill-opacity="0.35"/>
<circle cx="422.00" cy="135.75" r="2.4" fill="#f59a30" fill-opacity="0.35"/>
<circle cx="418.50" cy="141.50" r="2.4" fill="#f59a30" fill-opacity="0.35"/>
<circle cx="420.00" cy="150.75" r="2.4" fill="#f59a30" fill-opacity="0.35"/>
<circle cx="417.75" cy="155.75" r="2.4" fill="#f59a30" fill-opacity="0.35"/>
<circle cx="421.00" cy="157.00" r="2.4" fill="#f59a30" fill-opacity="0.35"/>
<circle cx="417.75" cy="162.50" r="2.4" fill="#f59a30" fill-opacity="0.35"/>
<circle cx="420.25" cy="164.00" r="2.4" fill="#f59a30" fill-opacity="0.35"/>
<circle cx="422.75" cy="167.50" r="2.4" fill="#f59a30" fill-opacity="0.35"/>
<circle cx="420.25" cy="119.50" r="1.25" fill="#b27a46"/>
<circle cx="419.00" cy="129.50" r="1.25" fill="#b27a46"/>
<circle cx="421.00" cy="132.00" r="1.25" fill="#b27a46"/>
<circle cx="419.50" cy="136.50" r="1.25" fill="#c77f3c"/>
<circle cx="422.00" cy="135.75" r="1.25" fill="#c77f3c"/>
<circle cx="418.50" cy="141.50" r="1.25" fill="#b27a46"/>
<circle cx="420.00" cy="150.75" r="1.25" fill="#b27a46"/>
<circle cx="417.75" cy="155.75" r="1.25" fill="#b27a46"/>
<circle cx="421.00" cy="157.00" r="1.25" fill="#b27a46"/>
<circle cx="417.75" cy="162.50" r="1.25" fill="#c77f3c"/>
<circle cx="420.25" cy="164.00" r="1.25" fill="#c77f3c"/>
<circle cx="422.75" cy="167.50" r="1.25" fill="#b27a46"/>
<line x1="415.90" y1="150.75" x2="423.90" y2="150.75" stroke="#636378" stroke-width="1.05"/>
<circle cx="440.25" cy="115.75" r="2.4" fill="#f59a30" fill-opacity="0.35"/>
<circle cx="441.50" cy="120.75" r="2.4" fill="#f59a30" fill-opacity="0.35"/>
<circle cx="444.50" cy="126.50" r="2.4" fill="#f59a30" fill-opacity="0.35"/>
<circle cx="446.00" cy="127.50" r="2.4" fill="#f59a30" fill-opacity="0.35"/>
<circle cx="440.25" cy="148.25" r="2.4" fill="#f59a30" fill-opacity="0.35"/>
<circle cx="440.25" cy="164.50" r="2.4" fill="#f59a30" fill-opacity="0.35"/>
<circle cx="439.00" cy="168.25" r="2.4" fill="#f59a30" fill-opacity="0.35"/>
<circle cx="441.50" cy="170.75" r="2.4" fill="#f59a30" fill-opacity="0.35"/>
<circle cx="444.00" cy="147.00" r="2.4" fill="#f59a30" fill-opacity="0.35"/>
<circle cx="440.25" cy="115.75" r="1.25" fill="#b27a46"/>
<circle cx="441.50" cy="120.75" r="1.25" fill="#b27a46"/>
<circle cx="444.50" cy="126.50" r="1.25" fill="#c77f3c"/>
<circle cx="446.00" cy="127.50" r="1.25" fill="#c77f3c"/>
<circle cx="440.25" cy="148.25" r="1.25" fill="#b27a46"/>
<circle cx="440.25" cy="164.50" r="1.25" fill="#b27a46"/>
<circle cx="439.00" cy="168.25" r="1.25" fill="#b27a46"/>
<circle cx="441.50" cy="170.75" r="1.25" fill="#b27a46"/>
<circle cx="444.00" cy="147.00" r="1.25" fill="#b27a46"/>
<line x1="437.64" y1="147" x2="445.64" y2="147" stroke="#636378" stroke-width="1.05"/>
<circle cx="465.60" cy="98.60" r="2.4" fill="#f59a30" fill-opacity="0.35"/>
<circle cx="461.00" cy="103.50" r="2.4" fill="#f59a30" fill-opacity="0.35"/>
<circle cx="462.50" cy="106.00" r="2.4" fill="#f59a30" fill-opacity="0.35"/>
<circle cx="461.50" cy="109.00" r="2.4" fill="#f59a30" fill-opacity="0.35"/>
<circle cx="463.50" cy="110.50" r="2.4" fill="#f59a30" fill-opacity="0.35"/>
<circle cx="465.50" cy="112.50" r="2.4" fill="#f59a30" fill-opacity="0.35"/>
<circle cx="462.70" cy="113.16" r="2.4" fill="#f59a30" fill-opacity="0.35"/>
<circle cx="466.59" cy="114.15" r="2.4" fill="#f59a30" fill-opacity="0.35"/>
<circle cx="463.19" cy="115.96" r="2.4" fill="#f59a30" fill-opacity="0.35"/>
<circle cx="467.25" cy="116.80" r="2.4" fill="#f59a30" fill-opacity="0.35"/>
<circle cx="462.61" cy="118.11" r="2.4" fill="#f59a30" fill-opacity="0.35"/>
<circle cx="465.19" cy="119.73" r="2.4" fill="#f59a30" fill-opacity="0.35"/>
<circle cx="461.82" cy="121.15" r="2.4" fill="#f59a30" fill-opacity="0.35"/>
<circle cx="466.20" cy="121.46" r="2.4" fill="#f59a30" fill-opacity="0.35"/>
<circle cx="466.78" cy="123.18" r="2.4" fill="#f59a30" fill-opacity="0.35"/>
<circle cx="462.99" cy="123.03" r="2.4" fill="#f59a30" fill-opacity="0.35"/>
<circle cx="462.36" cy="124.29" r="2.4" fill="#f59a30" fill-opacity="0.35"/>
<circle cx="464.76" cy="126.79" r="2.4" fill="#f59a30" fill-opacity="0.35"/>
<circle cx="463.47" cy="127.85" r="2.4" fill="#f59a30" fill-opacity="0.35"/>
<circle cx="463.94" cy="128.89" r="2.4" fill="#f59a30" fill-opacity="0.35"/>
<circle cx="465.94" cy="129.05" r="2.4" fill="#f59a30" fill-opacity="0.35"/>
<circle cx="461.85" cy="131.28" r="2.4" fill="#f59a30" fill-opacity="0.35"/>
<circle cx="464.98" cy="131.85" r="2.4" fill="#f59a30" fill-opacity="0.35"/>
<circle cx="463.45" cy="132.38" r="2.4" fill="#f59a30" fill-opacity="0.35"/>
<circle cx="462.44" cy="133.39" r="2.4" fill="#f59a30" fill-opacity="0.35"/>
<circle cx="464.86" cy="134.71" r="2.4" fill="#f59a30" fill-opacity="0.35"/>
<circle cx="462.44" cy="136.48" r="2.4" fill="#f59a30" fill-opacity="0.35"/>
<circle cx="463.20" cy="136.58" r="2.4" fill="#f59a30" fill-opacity="0.35"/>
<circle cx="462.33" cy="138.79" r="2.4" fill="#f59a30" fill-opacity="0.35"/>
<circle cx="462.44" cy="139.33" r="2.4" fill="#f59a30" fill-opacity="0.35"/>
<circle cx="464.54" cy="141.24" r="2.4" fill="#f59a30" fill-opacity="0.35"/>
<circle cx="461.82" cy="141.20" r="2.4" fill="#f59a30" fill-opacity="0.35"/>
<circle cx="464.56" cy="142.87" r="2.4" fill="#f59a30" fill-opacity="0.35"/>
<circle cx="461.76" cy="144.39" r="2.4" fill="#f59a30" fill-opacity="0.35"/>
<circle cx="465.44" cy="144.76" r="2.4" fill="#f59a30" fill-opacity="0.35"/>
<circle cx="462.93" cy="146.29" r="2.4" fill="#f59a30" fill-opacity="0.35"/>
<circle cx="466.06" cy="147.73" r="2.4" fill="#f59a30" fill-opacity="0.35"/>
<circle cx="464.09" cy="149.82" r="2.4" fill="#f59a30" fill-opacity="0.35"/>
<circle cx="463.32" cy="151.98" r="2.4" fill="#f59a30" fill-opacity="0.35"/>
<circle cx="466.28" cy="154.87" r="2.4" fill="#f59a30" fill-opacity="0.35"/>
<circle cx="462.21" cy="156.16" r="2.4" fill="#f59a30" fill-opacity="0.35"/>
<circle cx="462.24" cy="158.82" r="2.4" fill="#f59a30" fill-opacity="0.35"/>
<circle cx="465.80" cy="159.75" r="2.4" fill="#f59a30" fill-opacity="0.35"/>
<circle cx="465.38" cy="162.50" r="2.4" fill="#f59a30" fill-opacity="0.35"/>
<circle cx="465.70" cy="164.56" r="2.4" fill="#f59a30" fill-opacity="0.35"/>
<circle cx="462.03" cy="166.73" r="2.4" fill="#f59a30" fill-opacity="0.35"/>
<circle cx="464.01" cy="168.10" r="2.4" fill="#f59a30" fill-opacity="0.35"/>
<circle cx="465.84" cy="171.18" r="2.4" fill="#f59a30" fill-opacity="0.35"/>
<circle cx="465.60" cy="98.60" r="1.25" fill="#b27a46"/>
<circle cx="461.00" cy="103.50" r="1.25" fill="#c77f3c"/>
<circle cx="462.50" cy="106.00" r="1.25" fill="#db8532"/>
<circle cx="461.50" cy="109.00" r="1.25" fill="#db8532"/>
<circle cx="463.50" cy="110.50" r="1.25" fill="#f08a28"/>
<circle cx="465.50" cy="112.50" r="1.25" fill="#f08a28"/>
<circle cx="462.70" cy="113.16" r="1.25" fill="#f08a28"/>
<circle cx="466.59" cy="114.15" r="1.25" fill="#db8532"/>
<circle cx="463.19" cy="115.96" r="1.25" fill="#db8532"/>
<circle cx="467.25" cy="116.80" r="1.25" fill="#c77f3c"/>
<circle cx="462.61" cy="118.11" r="1.25" fill="#f08a28"/>
<circle cx="465.19" cy="119.73" r="1.25" fill="#db8532"/>
<circle cx="461.82" cy="121.15" r="1.25" fill="#f08a28"/>
<circle cx="466.20" cy="121.46" r="1.25" fill="#db8532"/>
<circle cx="466.78" cy="123.18" r="1.25" fill="#c77f3c"/>
<circle cx="462.99" cy="123.03" r="1.25" fill="#db8532"/>
<circle cx="462.36" cy="124.29" r="1.25" fill="#db8532"/>
<circle cx="464.76" cy="126.79" r="1.25" fill="#f08a28"/>
<circle cx="463.47" cy="127.85" r="1.25" fill="#f08a28"/>
<circle cx="463.94" cy="128.89" r="1.25" fill="#f08a28"/>
<circle cx="465.94" cy="129.05" r="1.25" fill="#f08a28"/>
<circle cx="461.85" cy="131.28" r="1.25" fill="#f08a28"/>
<circle cx="464.98" cy="131.85" r="1.25" fill="#f08a28"/>
<circle cx="463.45" cy="132.38" r="1.25" fill="#f08a28"/>
<circle cx="462.44" cy="133.39" r="1.25" fill="#f08a28"/>
<circle cx="464.86" cy="134.71" r="1.25" fill="#f08a28"/>
<circle cx="462.44" cy="136.48" r="1.25" fill="#f08a28"/>
<circle cx="463.20" cy="136.58" r="1.25" fill="#f08a28"/>
<circle cx="462.33" cy="138.79" r="1.25" fill="#f08a28"/>
<circle cx="462.44" cy="139.33" r="1.25" fill="#f08a28"/>
<circle cx="464.54" cy="141.24" r="1.25" fill="#f08a28"/>
<circle cx="461.82" cy="141.20" r="1.25" fill="#f08a28"/>
<circle cx="464.56" cy="142.87" r="1.25" fill="#f08a28"/>
<circle cx="461.76" cy="144.39" r="1.25" fill="#f08a28"/>
<circle cx="465.44" cy="144.76" r="1.25" fill="#f08a28"/>
<circle cx="462.93" cy="146.29" r="1.25" fill="#db8532"/>
<circle cx="466.06" cy="147.73" r="1.25" fill="#db8532"/>
<circle cx="464.09" cy="149.82" r="1.25" fill="#db8532"/>
<circle cx="463.32" cy="151.98" r="1.25" fill="#c77f3c"/>
<circle cx="466.28" cy="154.87" r="1.25" fill="#b27a46"/>
<circle cx="462.21" cy="156.16" r="1.25" fill="#c77f3c"/>
<circle cx="462.24" cy="158.82" r="1.25" fill="#c77f3c"/>
<circle cx="465.80" cy="159.75" r="1.25" fill="#c77f3c"/>
<circle cx="465.38" cy="162.50" r="1.25" fill="#db8532"/>
<circle cx="465.70" cy="164.56" r="1.25" fill="#c77f3c"/>
<circle cx="462.03" cy="166.73" r="1.25" fill="#c77f3c"/>
<circle cx="464.01" cy="168.10" r="1.25" fill="#c77f3c"/>
<circle cx="465.84" cy="171.18" r="1.25" fill="#b27a46"/>
<line x1="459.38" y1="132" x2="467.38" y2="132" stroke="#636378" stroke-width="1.05"/>
<circle cx="484.00" cy="121.50" r="2.4" fill="#f59a30" fill-opacity="0.35"/>
<circle cx="485.25" cy="129.00" r="2.4" fill="#f59a30" fill-opacity="0.35"/>
<circle cx="487.75" cy="130.00" r="2.4" fill="#f59a30" fill-opacity="0.35"/>
<circle cx="483.50" cy="137.00" r="2.4" fill="#f59a30" fill-opacity="0.35"/>
<circle cx="486.50" cy="149.50" r="2.4" fill="#f59a30" fill-opacity="0.35"/>
<circle cx="483.50" cy="154.50" r="2.4" fill="#f59a30" fill-opacity="0.35"/>
<circle cx="487.00" cy="159.50" r="2.4" fill="#f59a30" fill-opacity="0.35"/>
<circle cx="484.00" cy="161.50" r="2.4" fill="#f59a30" fill-opacity="0.35"/>
<circle cx="487.75" cy="164.50" r="2.4" fill="#f59a30" fill-opacity="0.35"/>
<circle cx="483.50" cy="168.25" r="2.4" fill="#f59a30" fill-opacity="0.35"/>
<circle cx="489.00" cy="170.75" r="2.4" fill="#f59a30" fill-opacity="0.35"/>
<circle cx="484.00" cy="121.50" r="1.25" fill="#b27a46"/>
<circle cx="485.25" cy="129.00" r="1.25" fill="#c77f3c"/>
<circle cx="487.75" cy="130.00" r="1.25" fill="#c77f3c"/>
<circle cx="483.50" cy="137.00" r="1.25" fill="#b27a46"/>
<circle cx="486.50" cy="149.50" r="1.25" fill="#b27a46"/>
<circle cx="483.50" cy="154.50" r="1.25" fill="#b27a46"/>
<circle cx="487.00" cy="159.50" r="1.25" fill="#b27a46"/>
<circle cx="484.00" cy="161.50" r="1.25" fill="#b27a46"/>
<circle cx="487.75" cy="164.50" r="1.25" fill="#b27a46"/>
<circle cx="483.50" cy="168.25" r="1.25" fill="#b27a46"/>
<circle cx="489.00" cy="170.75" r="1.25" fill="#b27a46"/>
<line x1="481.12" y1="150.75" x2="489.12" y2="150.75" stroke="#636378" stroke-width="1.05"/>
<circle cx="507.00" cy="122.50" r="2.4" fill="#f59a30" fill-opacity="0.35"/>
<circle cx="507.75" cy="140.00" r="2.4" fill="#f59a30" fill-opacity="0.35"/>
<circle cx="507.00" cy="122.50" r="1.25" fill="#b27a46"/>
<circle cx="507.75" cy="140.00" r="1.25" fill="#b27a46"/>
<line x1="502.86" y1="132.5" x2="510.86" y2="132.5" stroke="#636378" stroke-width="1.05"/>
<rect x="302.7" y="96.6" width="215.60" height="86.20" fill="none" stroke="#2a2a2a" stroke-width="1.3"/>
<line x1="296.90" y1="100.70" x2="302.70" y2="100.70" stroke="#2a2a2a" stroke-width="1.3"/>
<text transform="translate(290.90,104.81) scale(1,1.17)" text-anchor="end" font-family='"Liberation Sans", sans-serif' font-size="9.3" fill="#222" stroke="#222" stroke-width="0.3">9.0</text>
<line x1="296.90" y1="112.70" x2="302.70" y2="112.70" stroke="#2a2a2a" stroke-width="1.3"/>
<text transform="translate(290.90,116.81) scale(1,1.17)" text-anchor="end" font-family='"Liberation Sans", sans-serif' font-size="9.3" fill="#222" stroke="#222" stroke-width="0.3">8.5</text>
<line x1="296.90" y1="124.70" x2="302.70" y2="124.70" stroke="#2a2a2a" stroke-width="1.3"/>
<text transform="translate(290.90,128.81) scale(1,1.17)" text-anchor="end" font-family='"Liberation Sans", sans-serif' font-size="9.3" fill="#222" stroke="#222" stroke-width="0.3">8.0</text>
<line x1="296.90" y1="136.70" x2="302.70" y2="136.70" stroke="#2a2a2a" stroke-width="1.3"/>
<text transform="translate(290.90,140.81) scale(1,1.17)" text-anchor="end" font-family='"Liberation Sans", sans-serif' font-size="9.3" fill="#222" stroke="#222" stroke-width="0.3">7.5</text>
<line x1="296.90" y1="148.70" x2="302.70" y2="148.70" stroke="#2a2a2a" stroke-width="1.3"/>
<text transform="translate(290.90,152.81) scale(1,1.17)" text-anchor="end" font-family='"Liberation Sans", sans-serif' font-size="9.3" fill="#222" stroke="#222" stroke-width="0.3">7.0</text>
<line x1="296.90" y1="160.70" x2="302.70" y2="160.70" stroke="#2a2a2a" stroke-width="1.3"/>
<text transform="translate(290.90,164.81) scale(1,1.17)" text-anchor="end" font-family='"Liberation Sans", sans-serif' font-size="9.3" fill="#222" stroke="#222" stroke-width="0.3">6.5</text>
<line x1="296.90" y1="172.70" x2="302.70" y2="172.70" stroke="#2a2a2a" stroke-width="1.3"/>
<text transform="translate(290.90,176.81) scale(1,1.17)" text-anchor="end" font-family='"Liberation Sans", sans-serif' font-size="9.3" fill="#222" stroke="#222" stroke-width="0.3">6.0</text>
<text transform="translate(513.20,112.60) scale(1,1.0)" text-anchor="end" font-family='"Liberation Sans", sans-serif' font-size="12.2" fill="#1a1a1a" stroke="#1a1a1a" stroke-width="0.3">miR−205</text>
<line x1="53.80" y1="277.50" x2="53.80" y2="283.30" stroke="#2a2a2a" stroke-width="1.3"/>
<text transform="translate(57.10,289.00) rotate(-90) scale(1.06,1)" text-anchor="end" font-family='"Liberation Sans", sans-serif' font-size="9.3" fill="#222" stroke="#222" stroke-width="0.3">CTCL−MF</text>
<line x1="75.49" y1="277.50" x2="75.49" y2="283.30" stroke="#2a2a2a" stroke-width="1.3"/>
<text transform="translate(78.79,289.00) rotate(-90) scale(1.06,1)" text-anchor="end" font-family='"Liberation Sans", sans-serif' font-size="9.3" fill="#222" stroke="#222" stroke-width="0.3">CTCL−SS</text>
<line x1="97.18" y1="277.50" x2="97.18" y2="283.30" stroke="#2a2a2a" stroke-width="1.3"/>
<text transform="translate(100.48,289.00) rotate(-90) scale(1.06,1)" text-anchor="end" font-family='"Liberation Sans", sans-serif' font-size="9.3" fill="#222" stroke="#222" stroke-width="0.3">CTCL−NOS</text>
<line x1="118.87" y1="277.50" x2="118.87" y2="283.30" stroke="#2a2a2a" stroke-width="1.3"/>
<text transform="translate(122.17,289.00) rotate(-90) scale(1.06,1)" text-anchor="end" font-family='"Liberation Sans", sans-serif' font-size="9.3" fill="#222" stroke="#222" stroke-width="0.3">CTCL−ALCL</text>
<line x1="140.56" y1="277.50" x2="140.56" y2="283.30" stroke="#2a2a2a" stroke-width="1.3"/>
<text transform="translate(143.86,289.00) rotate(-90) scale(1.06,1)" text-anchor="end" font-family='"Liberation Sans", sans-serif' font-size="9.3" fill="#222" stroke="#222" stroke-width="0.3">NTCL−NOS</text>
<line x1="162.25" y1="277.50" x2="162.25" y2="283.30" stroke="#2a2a2a" stroke-width="1.3"/>
<text transform="translate(165.55,289.00) rotate(-90) scale(1.06,1)" text-anchor="end" font-family='"Liberation Sans", sans-serif' font-size="9.3" fill="#222" stroke="#222" stroke-width="0.3">AD</text>
<line x1="183.94" y1="277.50" x2="183.94" y2="283.30" stroke="#2a2a2a" stroke-width="1.3"/>
<text transform="translate(187.24,289.00) rotate(-90) scale(1.06,1)" text-anchor="end" font-family='"Liberation Sans", sans-serif' font-size="9.3" fill="#222" stroke="#222" stroke-width="0.3">Dermatitis</text>
<line x1="205.63" y1="277.50" x2="205.63" y2="283.30" stroke="#2a2a2a" stroke-width="1.3"/>
<text transform="translate(208.93,289.00) rotate(-90) scale(1.06,1)" text-anchor="end" font-family='"Liberation Sans", sans-serif' font-size="9.3" fill="#222" stroke="#222" stroke-width="0.3">PP</text>
<line x1="227.32" y1="277.50" x2="227.32" y2="283.30" stroke="#2a2a2a" stroke-width="1.3"/>
<text transform="translate(230.62,289.00) rotate(-90) scale(1.06,1)" text-anchor="end" font-family='"Liberation Sans", sans-serif' font-size="9.3" fill="#222" stroke="#222" stroke-width="0.3">PN</text>
<line x1="249.01" y1="277.50" x2="249.01" y2="283.30" stroke="#2a2a2a" stroke-width="1.3"/>
<text transform="translate(252.31,289.00) rotate(-90) scale(1.06,1)" text-anchor="end" font-family='"Liberation Sans", sans-serif' font-size="9.3" fill="#222" stroke="#222" stroke-width="0.3">NN</text>
<line x1="311.20" y1="182.80" x2="311.20" y2="188.60" stroke="#2a2a2a" stroke-width="1.3"/>
<text transform="translate(313.60,194.00) rotate(-90) scale(1.06,1)" text-anchor="end" font-family='"Liberation Sans", sans-serif' font-size="9.3" fill="#222" stroke="#222" stroke-width="0.3">CTCL−MF</text>
<line x1="332.94" y1="182.80" x2="332.94" y2="188.60" stroke="#2a2a2a" stroke-width="1.3"/>
<text transform="translate(335.34,194.00) rotate(-90) scale(1.06,1)" text-anchor="end" font-family='"Liberation Sans", sans-serif' font-size="9.3" fill="#222" stroke="#222" stroke-width="0.3">CTCL−SS</text>
<line x1="354.68" y1="182.80" x2="354.68" y2="188.60" stroke="#2a2a2a" stroke-width="1.3"/>
<text transform="translate(357.08,194.00) rotate(-90) scale(1.06,1)" text-anchor="end" font-family='"Liberation Sans", sans-serif' font-size="9.3" fill="#222" stroke="#222" stroke-width="0.3">CTCL−NOS</text>
<line x1="376.42" y1="182.80" x2="376.42" y2="188.60" stroke="#2a2a2a" stroke-width="1.3"/>
<text transform="translate(378.82,194.00) rotate(-90) scale(1.06,1)" text-anchor="end" font-family='"Liberation Sans", sans-serif' font-size="9.3" fill="#222" stroke="#222" stroke-width="0.3">CTCL−ALCL</text>
<line x1="398.16" y1="182.80" x2="398.16" y2="188.60" stroke="#2a2a2a" stroke-width="1.3"/>
<text transform="translate(400.56,194.00) rotate(-90) scale(1.06,1)" text-anchor="end" font-family='"Liberation Sans", sans-serif' font-size="9.3" fill="#222" stroke="#222" stroke-width="0.3">NTCL−NOS</text>
<line x1="419.90" y1="182.80" x2="419.90" y2="188.60" stroke="#2a2a2a" stroke-width="1.3"/>
<text transform="translate(422.30,194.00) rotate(-90) scale(1.06,1)" text-anchor="end" font-family='"Liberation Sans", sans-serif' font-size="9.3" fill="#222" stroke="#222" stroke-width="0.3">AD</text>
<line x1="441.64" y1="182.80" x2="441.64" y2="188.60" stroke="#2a2a2a" stroke-width="1.3"/>
<text transform="translate(444.04,194.00) rotate(-90) scale(1.06,1)" text-anchor="end" font-family='"Liberation Sans", sans-serif' font-size="9.3" fill="#222" stroke="#222" stroke-width="0.3">Dermatitis</text>
<line x1="463.38" y1="182.80" x2="463.38" y2="188.60" stroke="#2a2a2a" stroke-width="1.3"/>
<text transform="translate(465.78,194.00) rotate(-90) scale(1.06,1)" text-anchor="end" font-family='"Liberation Sans", sans-serif' font-size="9.3" fill="#222" stroke="#222" stroke-width="0.3">PP</text>
<line x1="485.12" y1="182.80" x2="485.12" y2="188.60" stroke="#2a2a2a" stroke-width="1.3"/>
<text transform="translate(487.52,194.00) rotate(-90) scale(1.06,1)" text-anchor="end" font-family='"Liberation Sans", sans-serif' font-size="9.3" fill="#222" stroke="#222" stroke-width="0.3">PN</text>
<line x1="506.86" y1="182.80" x2="506.86" y2="188.60" stroke="#2a2a2a" stroke-width="1.3"/>
<text transform="translate(509.26,194.00) rotate(-90) scale(1.06,1)" text-anchor="end" font-family='"Liberation Sans", sans-serif' font-size="9.3" fill="#222" stroke="#222" stroke-width="0.3">NN</text>
<text transform="translate(7.90,139.00) rotate(-90) scale(1.045,1)" text-anchor="middle" font-family='"Liberation Sans", sans-serif' font-size="9.3" fill="#222" stroke="#222" stroke-width="0.3">Normalized log<tspan font-size="6.2" dy="3">2</tspan><tspan dy="-3"> expression</tspan></text>
</svg>
</body></html>
